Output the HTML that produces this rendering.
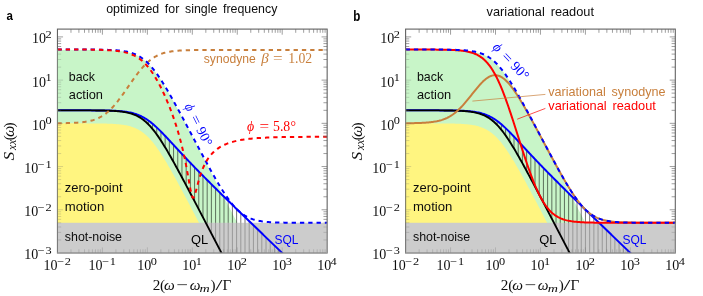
<!DOCTYPE html>
<html><head><meta charset="utf-8"><title>figure</title>
<style>html,body{margin:0;padding:0;background:#fff;}body{width:703px;height:296px;overflow:hidden;font-family:"Liberation Sans",sans-serif;}svg{display:block;will-change:transform;}text{white-space:pre;}</style></head><body>
<svg width="703" height="296" viewBox="0 0 703 296" font-family="'Liberation Sans', sans-serif">
<rect width="703" height="296" fill="#fff"/>
<clipPath id="clipA"><rect x="57.45" y="29.1" width="269.7" height="223.9"/></clipPath>
<g clip-path="url(#clipA)">
<path d="M57.45 49.91 L58.49 49.91 L59.53 49.91 L60.57 49.91 L61.62 49.91 L62.66 49.91 L63.7 49.91 L64.74 49.91 L65.78 49.91 L66.82 49.92 L67.86 49.92 L68.9 49.92 L69.95 49.92 L70.99 49.92 L72.03 49.92 L73.07 49.92 L74.11 49.92 L75.15 49.92 L76.19 49.92 L77.23 49.92 L78.28 49.93 L79.32 49.93 L80.36 49.93 L81.4 49.93 L82.44 49.93 L83.48 49.94 L84.52 49.94 L85.57 49.94 L86.61 49.95 L87.65 49.95 L88.69 49.96 L89.73 49.96 L90.77 49.97 L91.81 49.97 L92.85 49.98 L93.9 49.99 L94.94 50 L95.98 50.01 L97.02 50.02 L98.06 50.03 L99.1 50.04 L100.14 50.06 L101.19 50.08 L102.23 50.09 L103.27 50.11 L104.31 50.14 L105.35 50.16 L106.39 50.19 L107.43 50.22 L108.47 50.26 L109.52 50.3 L110.56 50.34 L111.6 50.39 L112.64 50.44 L113.68 50.5 L114.72 50.56 L115.76 50.63 L116.8 50.71 L117.85 50.8 L118.89 50.9 L119.93 51.01 L120.97 51.13 L122.01 51.26 L123.05 51.41 L124.09 51.57 L125.14 51.75 L126.18 51.94 L127.22 52.16 L128.26 52.39 L129.3 52.65 L130.34 52.94 L131.38 53.25 L132.42 53.59 L133.47 53.97 L134.51 54.37 L135.55 54.81 L136.59 55.29 L137.63 55.81 L138.67 56.37 L139.71 56.98 L140.76 57.63 L141.8 58.33 L142.84 59.08 L143.88 59.88 L144.92 60.73 L145.96 61.63 L147 62.59 L148.04 63.6 L149.09 64.66 L150.13 65.78 L151.17 66.95 L152.21 68.17 L153.25 69.44 L154.29 70.76 L155.33 72.12 L156.37 73.54 L157.42 74.99 L158.46 76.49 L159.5 78.02 L160.54 79.6 L161.58 81.2 L162.62 82.84 L163.66 84.52 L164.71 86.22 L165.75 87.94 L166.79 89.69 L167.83 91.46 L168.87 93.26 L169.91 95.07 L170.95 96.9 L171.99 98.75 L173.04 100.61 L174.08 102.48 L175.12 104.37 L176.16 106.27 L177.2 108.18 L178.24 110.09 L179.28 112.02 L180.32 113.95 L181.37 115.89 L182.41 117.84 L183.45 119.79 L184.49 121.75 L185.53 123.71 L186.57 125.67 L187.61 127.64 L188.66 129.61 L189.7 131.59 L190.74 133.57 L191.78 135.55 L192.82 137.53 L193.86 139.51 L194.9 141.5 L195.94 143.49 L196.99 145.48 L198.03 147.47 L199.07 149.46 L200.11 151.45 L201.15 153.45 L202.19 155.44 L203.23 157.44 L204.28 159.43 L205.32 161.43 L206.36 163.43 L207.4 165.43 L208.44 167.42 L209.48 169.42 L210.52 171.42 L211.56 173.42 L212.61 175.42 L213.65 177.42 L214.69 179.42 L215.73 181.42 L216.77 183.42 L217.81 185.42 L218.85 187.43 L219.89 189.43 L220.94 191.43 L221.98 193.43 L223.02 195.43 L224.06 197.43 L225.1 199.43 L226.14 201.44 L227.18 203.44 L228.23 205.44 L229.27 207.44 L230.31 209.44 L231.35 211.45 L232.39 213.45 L233.43 215.45 L234.47 217.45 L235.51 219.46 L236.56 221.46 L237.6 223.46 L238.64 225.46 L239.68 227.46 L240.72 229.47 L241.76 231.47 L242.8 233.47 L243.84 235.47 L244.89 237.48 L245.93 239.48 L246.97 241.48 L248.01 243.48 L249.05 245.49 L250.09 247.49 L251.13 249.49 L252.18 251.49 L253.22 253.5 L254.26 255.5 L255.3 257.5 L256.34 259.5 L257.38 261.51 L258.42 263.51 L259.46 265.51 L260.51 267.51 L261.55 269.51 L262.59 271.52 L263.63 273.52 L264.67 275.52 L265.71 277.52 L266.75 279.53 L267.8 281.53 L268.84 283.53 L269.88 285.53 L270.92 287.54 L271.96 289.54 L273 291.54 L274.04 293.54 L275.08 295.55 L276.13 297.55 L277.17 299.55 L278.21 301.55 L279.25 303.56 L280.29 305.56 L281.33 307.56 L282.37 309.56 L283.41 311.57 L284.46 313.57 L285.5 315.57 L286.54 317.57 L287.58 319.58 L288.62 321.58 L289.66 323.58 L290.7 325.58 L291.75 327.59 L292.79 329.59 L293.83 331.59 L294.87 333.59 L295.91 335.6 L296.95 337.6 L297.99 339.6 L299.03 341.6 L300.08 343.61 L301.12 345.61 L302.16 347.61 L303.2 349.61 L304.24 351.62 L305.28 353.62 L306.32 355.62 L307.37 357.62 L308.41 359.63 L309.45 361.63 L310.49 363.63 L311.53 365.63 L312.57 367.64 L313.61 369.64 L314.65 371.64 L315.7 373.64 L316.74 375.65 L317.78 377.65 L318.82 379.65 L319.86 381.65 L320.9 383.66 L321.94 385.66 L322.98 387.66 L324.03 389.66 L325.07 391.67 L326.11 393.67 L327.15 395.67 L327.15 253 L57.45 253 Z" fill="#c8f5c8"/>
<path d="M57.45 123.34 L58.49 123.34 L59.53 123.34 L60.57 123.34 L61.62 123.34 L62.66 123.34 L63.7 123.34 L64.74 123.34 L65.78 123.34 L66.82 123.34 L67.86 123.35 L68.9 123.35 L69.95 123.35 L70.99 123.35 L72.03 123.35 L73.07 123.35 L74.11 123.35 L75.15 123.35 L76.19 123.35 L77.23 123.35 L78.28 123.36 L79.32 123.36 L80.36 123.36 L81.4 123.36 L82.44 123.36 L83.48 123.37 L84.52 123.37 L85.57 123.37 L86.61 123.38 L87.65 123.38 L88.69 123.39 L89.73 123.39 L90.77 123.4 L91.81 123.4 L92.85 123.41 L93.9 123.42 L94.94 123.43 L95.98 123.44 L97.02 123.45 L98.06 123.46 L99.1 123.47 L100.14 123.49 L101.19 123.51 L102.23 123.52 L103.27 123.54 L104.31 123.57 L105.35 123.59 L106.39 123.62 L107.43 123.65 L108.47 123.69 L109.52 123.73 L110.56 123.77 L111.6 123.82 L112.64 123.87 L113.68 123.93 L114.72 123.99 L115.76 124.06 L116.8 124.14 L117.85 124.23 L118.89 124.33 L119.93 124.44 L120.97 124.56 L122.01 124.69 L123.05 124.84 L124.09 125 L125.14 125.18 L126.18 125.37 L127.22 125.59 L128.26 125.82 L129.3 126.08 L130.34 126.37 L131.38 126.68 L132.42 127.02 L133.47 127.39 L134.51 127.8 L135.55 128.24 L136.59 128.72 L137.63 129.24 L138.67 129.8 L139.71 130.41 L140.76 131.06 L141.8 131.76 L142.84 132.51 L143.88 133.31 L144.92 134.16 L145.96 135.06 L147 136.02 L148.04 137.03 L149.09 138.09 L150.13 139.21 L151.17 140.38 L152.21 141.6 L153.25 142.87 L154.29 144.19 L155.33 145.55 L156.37 146.97 L157.42 148.42 L158.46 149.92 L159.5 151.45 L160.54 153.03 L161.58 154.63 L162.62 156.27 L163.66 157.95 L164.71 159.64 L165.75 161.37 L166.79 163.12 L167.83 164.89 L168.87 166.69 L169.91 168.5 L170.95 170.33 L171.99 172.18 L173.04 174.04 L174.08 175.91 L175.12 177.8 L176.16 179.7 L177.2 181.61 L178.24 183.52 L179.28 185.45 L180.32 187.38 L181.37 189.32 L182.41 191.27 L183.45 193.22 L184.49 195.17 L185.53 197.14 L186.57 199.1 L187.61 201.07 L188.66 203.04 L189.7 205.02 L190.74 207 L191.78 208.98 L192.82 210.96 L193.86 212.94 L194.9 214.93 L195.94 216.92 L196.99 218.91 L198.03 220.9 L199.07 222.89 L200.11 224.88 L201.15 226.88 L202.19 228.87 L203.23 230.87 L204.28 232.86 L205.32 234.86 L206.36 236.86 L207.4 238.86 L208.44 240.85 L209.48 242.85 L210.52 244.85 L211.56 246.85 L212.61 248.85 L213.65 250.85 L214.69 252.85 L215.73 254.85 L216.77 256.85 L217.81 258.85 L218.85 260.86 L219.89 262.86 L220.94 264.86 L221.98 266.86 L223.02 268.86 L224.06 270.86 L225.1 272.86 L226.14 274.87 L227.18 276.87 L228.23 278.87 L229.27 280.87 L230.31 282.87 L231.35 284.88 L232.39 286.88 L233.43 288.88 L234.47 290.88 L235.51 292.88 L236.56 294.89 L237.6 296.89 L238.64 298.89 L239.68 300.89 L240.72 302.9 L241.76 304.9 L242.8 306.9 L243.84 308.9 L244.89 310.91 L245.93 312.91 L246.97 314.91 L248.01 316.91 L249.05 318.92 L250.09 320.92 L251.13 322.92 L252.18 324.92 L253.22 326.92 L254.26 328.93 L255.3 330.93 L256.34 332.93 L257.38 334.93 L258.42 336.94 L259.46 338.94 L260.51 340.94 L261.55 342.94 L262.59 344.95 L263.63 346.95 L264.67 348.95 L265.71 350.95 L266.75 352.96 L267.8 354.96 L268.84 356.96 L269.88 358.96 L270.92 360.97 L271.96 362.97 L273 364.97 L274.04 366.97 L275.08 368.98 L276.13 370.98 L277.17 372.98 L278.21 374.98 L279.25 376.99 L280.29 378.99 L281.33 380.99 L282.37 382.99 L283.41 385 L284.46 387 L285.5 389 L286.54 391 L287.58 393.01 L288.62 395.01 L289.66 397.01 L290.7 399.01 L291.75 401.02 L292.79 403.02 L293.83 405.02 L294.87 407.02 L295.91 409.03 L296.95 411.03 L297.99 413.03 L299.03 415.03 L300.08 417.04 L301.12 419.04 L302.16 421.04 L303.2 423.04 L304.24 425.05 L305.28 427.05 L306.32 429.05 L307.37 431.05 L308.41 433.06 L309.45 435.06 L310.49 437.06 L311.53 439.06 L312.57 441.07 L313.61 443.07 L314.65 445.07 L315.7 447.07 L316.74 449.08 L317.78 451.08 L318.82 453.08 L319.86 455.08 L320.9 457.09 L321.94 459.09 L322.98 461.09 L324.03 463.09 L325.07 465.1 L326.11 467.1 L327.15 469.1 L327.15 253 L57.45 253 Z" fill="#fff580"/>
<rect x="57.45" y="222.79" width="269.7" height="30.21" fill="#cccccc"/>
<clipPath id="hatchA"><path d="M57.45 110.33 L58.49 110.33 L59.53 110.33 L60.57 110.33 L61.62 110.33 L62.66 110.33 L63.7 110.33 L64.74 110.33 L65.78 110.33 L66.82 110.33 L67.86 110.33 L68.9 110.34 L69.95 110.34 L70.99 110.34 L72.03 110.34 L73.07 110.34 L74.11 110.34 L75.15 110.34 L76.19 110.34 L77.23 110.34 L78.28 110.35 L79.32 110.35 L80.36 110.35 L81.4 110.35 L82.44 110.35 L83.48 110.36 L84.52 110.36 L85.57 110.36 L86.61 110.37 L87.65 110.37 L88.69 110.38 L89.73 110.38 L90.77 110.39 L91.81 110.39 L92.85 110.4 L93.9 110.41 L94.94 110.42 L95.98 110.43 L97.02 110.44 L98.06 110.45 L99.1 110.46 L100.14 110.48 L101.19 110.49 L102.23 110.51 L103.27 110.53 L104.31 110.56 L105.35 110.58 L106.39 110.61 L107.43 110.64 L108.47 110.68 L109.52 110.71 L110.56 110.76 L111.6 110.81 L112.64 110.86 L113.68 110.92 L114.72 110.98 L115.76 111.05 L116.8 111.13 L117.85 111.22 L118.89 111.32 L119.93 111.43 L120.97 111.55 L122.01 111.68 L123.05 111.83 L124.09 111.99 L125.14 112.16 L126.18 112.36 L127.22 112.58 L128.26 112.81 L129.3 113.07 L130.34 113.36 L131.38 113.67 L132.42 114.01 L133.47 114.38 L134.51 114.79 L135.55 115.23 L136.59 115.71 L137.63 116.23 L138.67 116.79 L139.71 117.4 L140.76 118.05 L141.8 118.75 L142.84 119.5 L143.88 120.3 L144.92 121.15 L145.96 122.05 L147 123.01 L148.04 124.02 L149.09 125.08 L150.13 126.2 L151.17 127.37 L152.21 128.59 L153.25 129.86 L154.29 131.18 L155.33 132.54 L156.37 133.96 L157.42 135.41 L158.46 136.91 L159.5 138.44 L160.54 140.02 L161.58 141.62 L162.62 143.26 L163.66 144.93 L164.71 146.63 L165.75 148.36 L166.79 150.11 L167.83 151.88 L168.87 153.68 L169.91 155.49 L170.95 157.32 L171.99 159.17 L173.04 161.03 L174.08 162.9 L175.12 164.79 L176.16 166.69 L177.2 168.6 L178.24 170.51 L179.28 172.44 L180.32 174.37 L181.37 176.31 L182.41 178.26 L183.45 180.21 L184.49 182.16 L185.53 184.13 L186.57 186.09 L187.61 188.06 L188.66 190.03 L189.7 192.01 L190.74 193.98 L191.78 195.97 L192.82 197.95 L193.86 199.93 L194.9 201.92 L195.94 203.91 L196.99 205.9 L198.03 207.89 L199.07 209.88 L200.11 211.87 L201.15 213.87 L202.19 215.86 L203.23 217.86 L204.28 219.85 L205.32 221.85 L206.36 223.85 L207.4 225.85 L208.44 227.84 L209.48 229.84 L210.52 231.84 L211.56 233.84 L212.61 235.84 L213.65 237.84 L214.69 239.84 L215.73 241.84 L216.77 243.84 L217.81 245.84 L218.85 247.84 L219.89 249.85 L220.94 251.85 L221.98 253.85 L223.02 255.85 L224.06 257.85 L225.1 259.85 L226.14 261.86 L227.18 263.86 L228.23 265.86 L229.27 267.86 L230.31 269.86 L231.35 271.87 L232.39 273.87 L233.43 275.87 L234.47 277.87 L235.51 279.87 L236.56 281.88 L237.6 283.88 L238.64 285.88 L239.68 287.88 L240.72 289.89 L241.76 291.89 L242.8 293.89 L243.84 295.89 L244.89 297.9 L245.93 299.9 L246.97 301.9 L248.01 303.9 L249.05 305.9 L250.09 307.91 L251.13 309.91 L252.18 311.91 L253.22 313.91 L254.26 315.92 L255.3 317.92 L256.34 319.92 L257.38 321.92 L258.42 323.93 L259.46 325.93 L260.51 327.93 L261.55 329.93 L262.59 331.94 L263.63 333.94 L264.67 335.94 L265.71 337.94 L266.75 339.95 L267.8 341.95 L268.84 343.95 L269.88 345.95 L270.92 347.96 L271.96 349.96 L273 351.96 L274.04 353.96 L275.08 355.97 L276.13 357.97 L277.17 359.97 L278.21 361.97 L279.25 363.98 L280.29 365.98 L281.33 367.98 L282.37 369.98 L283.41 371.99 L284.46 373.99 L285.5 375.99 L286.54 377.99 L287.58 380 L288.62 382 L289.66 384 L290.7 386 L291.75 388.01 L292.79 390.01 L293.83 392.01 L294.87 394.01 L295.91 396.02 L296.95 398.02 L297.99 400.02 L299.03 402.02 L300.08 404.03 L301.12 406.03 L302.16 408.03 L303.2 410.03 L304.24 412.04 L305.28 414.04 L306.32 416.04 L307.37 418.04 L308.41 420.05 L309.45 422.05 L310.49 424.05 L311.53 426.05 L312.57 428.05 L313.61 430.06 L314.65 432.06 L315.7 434.06 L316.74 436.06 L317.78 438.07 L318.82 440.07 L319.86 442.07 L320.9 444.07 L321.94 446.08 L322.98 448.08 L324.03 450.08 L325.07 452.08 L326.11 454.09 L327.15 456.09 L327.15 296.22 L326.11 295.22 L325.07 294.22 L324.03 293.21 L322.98 292.21 L321.94 291.21 L320.9 290.21 L319.86 289.21 L318.82 288.21 L317.78 287.21 L316.74 286.2 L315.7 285.2 L314.65 284.2 L313.61 283.2 L312.57 282.2 L311.53 281.2 L310.49 280.2 L309.45 279.19 L308.41 278.19 L307.37 277.19 L306.32 276.19 L305.28 275.19 L304.24 274.19 L303.2 273.19 L302.16 272.18 L301.12 271.18 L300.08 270.18 L299.03 269.18 L297.99 268.18 L296.95 267.18 L295.91 266.17 L294.87 265.17 L293.83 264.17 L292.79 263.17 L291.75 262.17 L290.7 261.16 L289.66 260.16 L288.62 259.16 L287.58 258.16 L286.54 257.16 L285.5 256.15 L284.46 255.15 L283.41 254.15 L282.37 253.15 L281.33 252.15 L280.29 251.14 L279.25 250.14 L278.21 249.14 L277.17 248.14 L276.13 247.13 L275.08 246.13 L274.04 245.13 L273 244.13 L271.96 243.12 L270.92 242.12 L269.88 241.12 L268.84 240.11 L267.8 239.11 L266.75 238.11 L265.71 237.1 L264.67 236.1 L263.63 235.1 L262.59 234.09 L261.55 233.09 L260.51 232.08 L259.46 231.08 L258.42 230.08 L257.38 229.07 L256.34 228.07 L255.3 227.06 L254.26 226.06 L253.22 225.05 L252.18 224.04 L251.13 223.04 L250.09 222.03 L249.05 221.03 L248.01 220.02 L246.97 219.01 L245.93 218 L244.89 217 L243.84 215.99 L242.8 214.98 L241.76 213.97 L240.72 212.96 L239.68 211.95 L238.64 210.94 L237.6 209.93 L236.56 208.92 L235.51 207.91 L234.47 206.9 L233.43 205.88 L232.39 204.87 L231.35 203.86 L230.31 202.84 L229.27 201.83 L228.23 200.81 L227.18 199.79 L226.14 198.77 L225.1 197.76 L224.06 196.74 L223.02 195.72 L221.98 194.69 L220.94 193.67 L219.89 192.65 L218.85 191.62 L217.81 190.6 L216.77 189.57 L215.73 188.54 L214.69 187.51 L213.65 186.48 L212.61 185.44 L211.56 184.41 L210.52 183.37 L209.48 182.33 L208.44 181.29 L207.4 180.25 L206.36 179.21 L205.32 178.16 L204.28 177.11 L203.23 176.06 L202.19 175.01 L201.15 173.95 L200.11 172.9 L199.07 171.84 L198.03 170.77 L196.99 169.71 L195.94 168.64 L194.9 167.57 L193.86 166.49 L192.82 165.41 L191.78 164.33 L190.74 163.25 L189.7 162.16 L188.66 161.07 L187.61 159.98 L186.57 158.88 L185.53 157.78 L184.49 156.67 L183.45 155.57 L182.41 154.46 L181.37 153.34 L180.32 152.23 L179.28 151.11 L178.24 149.99 L177.2 148.87 L176.16 147.74 L175.12 146.62 L174.08 145.49 L173.04 144.36 L171.99 143.24 L170.95 142.11 L169.91 140.99 L168.87 139.87 L167.83 138.76 L166.79 137.65 L165.75 136.54 L164.71 135.44 L163.66 134.36 L162.62 133.28 L161.58 132.21 L160.54 131.16 L159.5 130.13 L158.46 129.11 L157.42 128.11 L156.37 127.13 L155.33 126.18 L154.29 125.25 L153.25 124.35 L152.21 123.47 L151.17 122.63 L150.13 121.82 L149.09 121.03 L148.04 120.29 L147 119.57 L145.96 118.89 L144.92 118.25 L143.88 117.64 L142.84 117.07 L141.8 116.53 L140.76 116.02 L139.71 115.55 L138.67 115.11 L137.63 114.7 L136.59 114.32 L135.55 113.97 L134.51 113.64 L133.47 113.34 L132.42 113.07 L131.38 112.82 L130.34 112.59 L129.3 112.37 L128.26 112.18 L127.22 112.01 L126.18 111.85 L125.14 111.7 L124.09 111.57 L123.05 111.45 L122.01 111.34 L120.97 111.24 L119.93 111.15 L118.89 111.07 L117.85 111 L116.8 110.93 L115.76 110.87 L114.72 110.82 L113.68 110.77 L112.64 110.73 L111.6 110.69 L110.56 110.65 L109.52 110.62 L108.47 110.59 L107.43 110.56 L106.39 110.54 L105.35 110.52 L104.31 110.5 L103.27 110.48 L102.23 110.47 L101.19 110.45 L100.14 110.44 L99.1 110.43 L98.06 110.42 L97.02 110.41 L95.98 110.4 L94.94 110.39 L93.9 110.39 L92.85 110.38 L91.81 110.38 L90.77 110.37 L89.73 110.37 L88.69 110.36 L87.65 110.36 L86.61 110.36 L85.57 110.35 L84.52 110.35 L83.48 110.35 L82.44 110.35 L81.4 110.35 L80.36 110.34 L79.32 110.34 L78.28 110.34 L77.23 110.34 L76.19 110.34 L75.15 110.34 L74.11 110.34 L73.07 110.34 L72.03 110.34 L70.99 110.34 L69.95 110.33 L68.9 110.33 L67.86 110.33 L66.82 110.33 L65.78 110.33 L64.74 110.33 L63.7 110.33 L62.66 110.33 L61.62 110.33 L60.57 110.33 L59.53 110.33 L58.49 110.33 L57.45 110.33 Z"/></clipPath>
<g clip-path="url(#hatchA)"><path d="M60.07 29.1 V222.79 M64.28 29.1 V222.79 M68.48 29.1 V222.79 M72.68 29.1 V222.79 M76.89 29.1 V222.79 M81.09 29.1 V222.79 M85.29 29.1 V222.79 M89.49 29.1 V222.79 M93.7 29.1 V222.79 M97.9 29.1 V222.79 M102.1 29.1 V222.79 M106.31 29.1 V222.79 M110.51 29.1 V222.79 M114.71 29.1 V222.79 M118.92 29.1 V222.79 M123.12 29.1 V222.79 M127.32 29.1 V222.79 M131.52 29.1 V222.79 M135.73 29.1 V222.79 M139.93 29.1 V222.79 M144.13 29.1 V222.79 M148.34 29.1 V222.79 M152.54 29.1 V222.79 M156.74 29.1 V222.79 M160.95 29.1 V222.79 M165.15 29.1 V222.79 M169.35 29.1 V222.79 M173.56 29.1 V222.79 M177.76 29.1 V222.79 M181.96 29.1 V222.79 M186.16 29.1 V222.79 M190.37 29.1 V222.79 M194.57 29.1 V222.79 M198.77 29.1 V222.79 M202.98 29.1 V222.79 M207.18 29.1 V222.79 M211.38 29.1 V222.79 M215.58 29.1 V222.79 M219.79 29.1 V222.79 M223.99 29.1 V222.79 M228.19 29.1 V222.79 M232.4 29.1 V222.79 M236.6 29.1 V222.79 M240.8 29.1 V222.79 M245.01 29.1 V222.79 M249.21 29.1 V222.79 M253.41 29.1 V222.79 M257.62 29.1 V222.79 M261.82 29.1 V222.79 M266.02 29.1 V222.79 M270.22 29.1 V222.79 M274.43 29.1 V222.79 M278.63 29.1 V222.79 M282.83 29.1 V222.79 M287.04 29.1 V222.79 M291.24 29.1 V222.79 M295.44 29.1 V222.79 M299.64 29.1 V222.79 M303.85 29.1 V222.79 M308.05 29.1 V222.79 M312.25 29.1 V222.79 M316.46 29.1 V222.79 M320.66 29.1 V222.79 M324.86 29.1 V222.79" stroke="#000" stroke-opacity="0.78" stroke-width="0.7" fill="none"/><path d="M60.07 222.79 V253 M64.28 222.79 V253 M68.48 222.79 V253 M72.68 222.79 V253 M76.89 222.79 V253 M81.09 222.79 V253 M85.29 222.79 V253 M89.49 222.79 V253 M93.7 222.79 V253 M97.9 222.79 V253 M102.1 222.79 V253 M106.31 222.79 V253 M110.51 222.79 V253 M114.71 222.79 V253 M118.92 222.79 V253 M123.12 222.79 V253 M127.32 222.79 V253 M131.52 222.79 V253 M135.73 222.79 V253 M139.93 222.79 V253 M144.13 222.79 V253 M148.34 222.79 V253 M152.54 222.79 V253 M156.74 222.79 V253 M160.95 222.79 V253 M165.15 222.79 V253 M169.35 222.79 V253 M173.56 222.79 V253 M177.76 222.79 V253 M181.96 222.79 V253 M186.16 222.79 V253 M190.37 222.79 V253 M194.57 222.79 V253 M198.77 222.79 V253 M202.98 222.79 V253 M207.18 222.79 V253 M211.38 222.79 V253 M215.58 222.79 V253 M219.79 222.79 V253 M223.99 222.79 V253 M228.19 222.79 V253 M232.4 222.79 V253 M236.6 222.79 V253 M240.8 222.79 V253 M245.01 222.79 V253 M249.21 222.79 V253 M253.41 222.79 V253 M257.62 222.79 V253 M261.82 222.79 V253 M266.02 222.79 V253 M270.22 222.79 V253 M274.43 222.79 V253 M278.63 222.79 V253 M282.83 222.79 V253 M287.04 222.79 V253 M291.24 222.79 V253 M295.44 222.79 V253 M299.64 222.79 V253 M303.85 222.79 V253 M308.05 222.79 V253 M312.25 222.79 V253 M316.46 222.79 V253 M320.66 222.79 V253 M324.86 222.79 V253" stroke="#000" stroke-opacity="0.36" stroke-width="0.7" fill="none"/></g>
<path d="M57.45 110.33 L58.49 110.33 L59.53 110.33 L60.57 110.33 L61.62 110.33 L62.66 110.33 L63.7 110.33 L64.74 110.33 L65.78 110.33 L66.82 110.33 L67.86 110.33 L68.9 110.33 L69.95 110.33 L70.99 110.34 L72.03 110.34 L73.07 110.34 L74.11 110.34 L75.15 110.34 L76.19 110.34 L77.23 110.34 L78.28 110.34 L79.32 110.34 L80.36 110.34 L81.4 110.35 L82.44 110.35 L83.48 110.35 L84.52 110.35 L85.57 110.35 L86.61 110.36 L87.65 110.36 L88.69 110.36 L89.73 110.37 L90.77 110.37 L91.81 110.38 L92.85 110.38 L93.9 110.39 L94.94 110.39 L95.98 110.4 L97.02 110.41 L98.06 110.42 L99.1 110.43 L100.14 110.44 L101.19 110.45 L102.23 110.47 L103.27 110.48 L104.31 110.5 L105.35 110.52 L106.39 110.54 L107.43 110.56 L108.47 110.59 L109.52 110.62 L110.56 110.65 L111.6 110.69 L112.64 110.73 L113.68 110.77 L114.72 110.82 L115.76 110.87 L116.8 110.93 L117.85 111 L118.89 111.07 L119.93 111.15 L120.97 111.24 L122.01 111.34 L123.05 111.45 L124.09 111.57 L125.14 111.7 L126.18 111.85 L127.22 112.01 L128.26 112.18 L129.3 112.37 L130.34 112.59 L131.38 112.82 L132.42 113.07 L133.47 113.34 L134.51 113.64 L135.55 113.97 L136.59 114.32 L137.63 114.7 L138.67 115.11 L139.71 115.55 L140.76 116.02 L141.8 116.53 L142.84 117.07 L143.88 117.64 L144.92 118.25 L145.96 118.89 L147 119.57 L148.04 120.29 L149.09 121.03 L150.13 121.82 L151.17 122.63 L152.21 123.47 L153.25 124.35 L154.29 125.25 L155.33 126.18 L156.37 127.13 L157.42 128.11 L158.46 129.11 L159.5 130.13 L160.54 131.16 L161.58 132.21 L162.62 133.28 L163.66 134.36 L164.71 135.44 L165.75 136.54 L166.79 137.65 L167.83 138.76 L168.87 139.87 L169.91 140.99 L170.95 142.11 L171.99 143.24 L173.04 144.36 L174.08 145.49 L175.12 146.62 L176.16 147.74 L177.2 148.87 L178.24 149.99 L179.28 151.11 L180.32 152.23 L181.37 153.34 L182.41 154.46 L183.45 155.57 L184.49 156.67 L185.53 157.78 L186.57 158.88 L187.61 159.98 L188.66 161.07 L189.7 162.16 L190.74 163.25 L191.78 164.33 L192.82 165.41 L193.86 166.49 L194.9 167.57 L195.94 168.64 L196.99 169.71 L198.03 170.77 L199.07 171.84 L200.11 172.9 L201.15 173.95 L202.19 175.01 L203.23 176.06 L204.28 177.11 L205.32 178.16 L206.36 179.21 L207.4 180.25 L208.44 181.29 L209.48 182.33 L210.52 183.37 L211.56 184.41 L212.61 185.44 L213.65 186.48 L214.69 187.51 L215.73 188.54 L216.77 189.57 L217.81 190.6 L218.85 191.62 L219.89 192.65 L220.94 193.67 L221.98 194.69 L223.02 195.72 L224.06 196.74 L225.1 197.76 L226.14 198.77 L227.18 199.79 L228.23 200.81 L229.27 201.83 L230.31 202.84 L231.35 203.86 L232.39 204.87 L233.43 205.88 L234.47 206.9 L235.51 207.91 L236.56 208.92 L237.6 209.93 L238.64 210.94 L239.68 211.95 L240.72 212.96 L241.76 213.97 L242.8 214.98 L243.84 215.99 L244.89 217 L245.93 218 L246.97 219.01 L248.01 220.02 L249.05 221.03 L250.09 222.03 L251.13 223.04 L252.18 224.04 L253.22 225.05 L254.26 226.06 L255.3 227.06 L256.34 228.07 L257.38 229.07 L258.42 230.08 L259.46 231.08 L260.51 232.08 L261.55 233.09 L262.59 234.09 L263.63 235.1 L264.67 236.1 L265.71 237.1 L266.75 238.11 L267.8 239.11 L268.84 240.11 L269.88 241.12 L270.92 242.12 L271.96 243.12 L273 244.13 L274.04 245.13 L275.08 246.13 L276.13 247.13 L277.17 248.14 L278.21 249.14 L279.25 250.14 L280.29 251.14 L281.33 252.15 L282.37 253.15 L283.41 254.15 L284.46 255.15 L285.5 256.15 L286.54 257.16 L287.58 258.16 L288.62 259.16 L289.66 260.16 L290.7 261.16 L291.75 262.17 L292.79 263.17 L293.83 264.17 L294.87 265.17 L295.91 266.17 L296.95 267.18 L297.99 268.18 L299.03 269.18 L300.08 270.18 L301.12 271.18 L302.16 272.18 L303.2 273.19 L304.24 274.19 L305.28 275.19 L306.32 276.19 L307.37 277.19 L308.41 278.19 L309.45 279.19 L310.49 280.2 L311.53 281.2 L312.57 282.2 L313.61 283.2 L314.65 284.2 L315.7 285.2 L316.74 286.2 L317.78 287.21 L318.82 288.21 L319.86 289.21 L320.9 290.21 L321.94 291.21 L322.98 292.21 L324.03 293.21 L325.07 294.22 L326.11 295.22 L327.15 296.22" fill="none" stroke="#0000ff" stroke-width="2" stroke-linejoin="round"/>
<path d="M57.45 110.33 L58.49 110.33 L59.53 110.33 L60.57 110.33 L61.62 110.33 L62.66 110.33 L63.7 110.33 L64.74 110.33 L65.78 110.33 L66.82 110.33 L67.86 110.33 L68.9 110.34 L69.95 110.34 L70.99 110.34 L72.03 110.34 L73.07 110.34 L74.11 110.34 L75.15 110.34 L76.19 110.34 L77.23 110.34 L78.28 110.35 L79.32 110.35 L80.36 110.35 L81.4 110.35 L82.44 110.35 L83.48 110.36 L84.52 110.36 L85.57 110.36 L86.61 110.37 L87.65 110.37 L88.69 110.38 L89.73 110.38 L90.77 110.39 L91.81 110.39 L92.85 110.4 L93.9 110.41 L94.94 110.42 L95.98 110.43 L97.02 110.44 L98.06 110.45 L99.1 110.46 L100.14 110.48 L101.19 110.49 L102.23 110.51 L103.27 110.53 L104.31 110.56 L105.35 110.58 L106.39 110.61 L107.43 110.64 L108.47 110.68 L109.52 110.71 L110.56 110.76 L111.6 110.81 L112.64 110.86 L113.68 110.92 L114.72 110.98 L115.76 111.05 L116.8 111.13 L117.85 111.22 L118.89 111.32 L119.93 111.43 L120.97 111.55 L122.01 111.68 L123.05 111.83 L124.09 111.99 L125.14 112.16 L126.18 112.36 L127.22 112.58 L128.26 112.81 L129.3 113.07 L130.34 113.36 L131.38 113.67 L132.42 114.01 L133.47 114.38 L134.51 114.79 L135.55 115.23 L136.59 115.71 L137.63 116.23 L138.67 116.79 L139.71 117.4 L140.76 118.05 L141.8 118.75 L142.84 119.5 L143.88 120.3 L144.92 121.15 L145.96 122.05 L147 123.01 L148.04 124.02 L149.09 125.08 L150.13 126.2 L151.17 127.37 L152.21 128.59 L153.25 129.86 L154.29 131.18 L155.33 132.54 L156.37 133.96 L157.42 135.41 L158.46 136.91 L159.5 138.44 L160.54 140.02 L161.58 141.62 L162.62 143.26 L163.66 144.93 L164.71 146.63 L165.75 148.36 L166.79 150.11 L167.83 151.88 L168.87 153.68 L169.91 155.49 L170.95 157.32 L171.99 159.17 L173.04 161.03 L174.08 162.9 L175.12 164.79 L176.16 166.69 L177.2 168.6 L178.24 170.51 L179.28 172.44 L180.32 174.37 L181.37 176.31 L182.41 178.26 L183.45 180.21 L184.49 182.16 L185.53 184.13 L186.57 186.09 L187.61 188.06 L188.66 190.03 L189.7 192.01 L190.74 193.98 L191.78 195.97 L192.82 197.95 L193.86 199.93 L194.9 201.92 L195.94 203.91 L196.99 205.9 L198.03 207.89 L199.07 209.88 L200.11 211.87 L201.15 213.87 L202.19 215.86 L203.23 217.86 L204.28 219.85 L205.32 221.85 L206.36 223.85 L207.4 225.85 L208.44 227.84 L209.48 229.84 L210.52 231.84 L211.56 233.84 L212.61 235.84 L213.65 237.84 L214.69 239.84 L215.73 241.84 L216.77 243.84 L217.81 245.84 L218.85 247.84 L219.89 249.85 L220.94 251.85 L221.98 253.85 L223.02 255.85 L224.06 257.85 L225.1 259.85 L226.14 261.86 L227.18 263.86 L228.23 265.86 L229.27 267.86 L230.31 269.86 L231.35 271.87 L232.39 273.87 L233.43 275.87 L234.47 277.87 L235.51 279.87 L236.56 281.88 L237.6 283.88 L238.64 285.88 L239.68 287.88 L240.72 289.89 L241.76 291.89 L242.8 293.89 L243.84 295.89 L244.89 297.9 L245.93 299.9 L246.97 301.9 L248.01 303.9 L249.05 305.9 L250.09 307.91 L251.13 309.91 L252.18 311.91 L253.22 313.91 L254.26 315.92 L255.3 317.92 L256.34 319.92 L257.38 321.92 L258.42 323.93 L259.46 325.93 L260.51 327.93 L261.55 329.93 L262.59 331.94 L263.63 333.94 L264.67 335.94 L265.71 337.94 L266.75 339.95 L267.8 341.95 L268.84 343.95 L269.88 345.95 L270.92 347.96 L271.96 349.96 L273 351.96 L274.04 353.96 L275.08 355.97 L276.13 357.97 L277.17 359.97 L278.21 361.97 L279.25 363.98 L280.29 365.98 L281.33 367.98 L282.37 369.98 L283.41 371.99 L284.46 373.99 L285.5 375.99 L286.54 377.99 L287.58 380 L288.62 382 L289.66 384 L290.7 386 L291.75 388.01 L292.79 390.01 L293.83 392.01 L294.87 394.01 L295.91 396.02 L296.95 398.02 L297.99 400.02 L299.03 402.02 L300.08 404.03 L301.12 406.03 L302.16 408.03 L303.2 410.03 L304.24 412.04 L305.28 414.04 L306.32 416.04 L307.37 418.04 L308.41 420.05 L309.45 422.05 L310.49 424.05 L311.53 426.05 L312.57 428.05 L313.61 430.06 L314.65 432.06 L315.7 434.06 L316.74 436.06 L317.78 438.07 L318.82 440.07 L319.86 442.07 L320.9 444.07 L321.94 446.08 L322.98 448.08 L324.03 450.08 L325.07 452.08 L326.11 454.09 L327.15 456.09" fill="none" stroke="#000000" stroke-width="1.9" stroke-linejoin="round"/>
<path d="M57.45 123.25 L58.49 123.24 L59.53 123.23 L60.57 123.21 L61.62 123.2 L62.66 123.18 L63.7 123.17 L64.74 123.15 L65.78 123.13 L66.82 123.1 L67.86 123.07 L68.9 123.05 L69.95 123.01 L70.99 122.98 L72.03 122.94 L73.07 122.89 L74.11 122.84 L75.15 122.78 L76.19 122.72 L77.23 122.65 L78.28 122.58 L79.32 122.5 L80.36 122.4 L81.4 122.3 L82.44 122.19 L83.48 122.06 L84.52 121.92 L85.57 121.77 L86.61 121.6 L87.65 121.42 L88.69 121.21 L89.73 120.99 L90.77 120.74 L91.81 120.47 L92.85 120.18 L93.9 119.85 L94.94 119.5 L95.98 119.11 L97.02 118.7 L98.06 118.24 L99.1 117.75 L100.14 117.22 L101.19 116.64 L102.23 116.02 L103.27 115.36 L104.31 114.65 L105.35 113.89 L106.39 113.09 L107.43 112.23 L108.47 111.33 L109.52 110.38 L110.56 109.37 L111.6 108.32 L112.64 107.22 L113.68 106.08 L114.72 104.89 L115.76 103.66 L116.8 102.39 L117.85 101.08 L118.89 99.73 L119.93 98.36 L120.97 96.96 L122.01 95.53 L123.05 94.08 L124.09 92.61 L125.14 91.13 L126.18 89.63 L127.22 88.13 L128.26 86.62 L129.3 85.12 L130.34 83.62 L131.38 82.12 L132.42 80.64 L133.47 79.17 L134.51 77.72 L135.55 76.29 L136.59 74.89 L137.63 73.51 L138.67 72.17 L139.71 70.86 L140.76 69.59 L141.8 68.36 L142.84 67.17 L143.88 66.03 L144.92 64.93 L145.96 63.88 L147 62.87 L148.04 61.92 L149.09 61.01 L150.13 60.16 L151.17 59.35 L152.21 58.6 L153.25 57.89 L154.29 57.23 L155.33 56.61 L156.37 56.03 L157.42 55.5 L158.46 55.01 L159.5 54.55 L160.54 54.14 L161.58 53.75 L162.62 53.4 L163.66 53.07 L164.71 52.78 L165.75 52.51 L166.79 52.26 L167.83 52.04 L168.87 51.83 L169.91 51.65 L170.95 51.48 L171.99 51.33 L173.04 51.19 L174.08 51.06 L175.12 50.95 L176.16 50.85 L177.2 50.75 L178.24 50.67 L179.28 50.6 L180.32 50.53 L181.37 50.47 L182.41 50.41 L183.45 50.36 L184.49 50.32 L185.53 50.27 L186.57 50.24 L187.61 50.21 L188.66 50.18 L189.7 50.15 L190.74 50.13 L191.78 50.1 L192.82 50.08 L193.86 50.07 L194.9 50.05 L195.94 50.04 L196.99 50.02 L198.03 50.01 L199.07 50 L200.11 49.99 L201.15 49.98 L202.19 49.98 L203.23 49.97 L204.28 49.96 L205.32 49.96 L206.36 49.95 L207.4 49.95 L208.44 49.95 L209.48 49.94 L210.52 49.94 L211.56 49.94 L212.61 49.93 L213.65 49.93 L214.69 49.93 L215.73 49.93 L216.77 49.93 L217.81 49.92 L218.85 49.92 L219.89 49.92 L220.94 49.92 L221.98 49.92 L223.02 49.92 L224.06 49.92 L225.1 49.92 L226.14 49.92 L227.18 49.92 L228.23 49.92 L229.27 49.91 L230.31 49.91 L231.35 49.91 L232.39 49.91 L233.43 49.91 L234.47 49.91 L235.51 49.91 L236.56 49.91 L237.6 49.91 L238.64 49.91 L239.68 49.91 L240.72 49.91 L241.76 49.91 L242.8 49.91 L243.84 49.91 L244.89 49.91 L245.93 49.91 L246.97 49.91 L248.01 49.91 L249.05 49.91 L250.09 49.91 L251.13 49.91 L252.18 49.91 L253.22 49.91 L254.26 49.91 L255.3 49.91 L256.34 49.91 L257.38 49.91 L258.42 49.91 L259.46 49.91 L260.51 49.91 L261.55 49.91 L262.59 49.91 L263.63 49.91 L264.67 49.91 L265.71 49.91 L266.75 49.91 L267.8 49.91 L268.84 49.91 L269.88 49.91 L270.92 49.91 L271.96 49.91 L273 49.91 L274.04 49.91 L275.08 49.91 L276.13 49.91 L277.17 49.91 L278.21 49.91 L279.25 49.91 L280.29 49.91 L281.33 49.91 L282.37 49.91 L283.41 49.91 L284.46 49.91 L285.5 49.91 L286.54 49.91 L287.58 49.91 L288.62 49.91 L289.66 49.91 L290.7 49.91 L291.75 49.91 L292.79 49.91 L293.83 49.91 L294.87 49.91 L295.91 49.91 L296.95 49.91 L297.99 49.91 L299.03 49.91 L300.08 49.91 L301.12 49.91 L302.16 49.91 L303.2 49.91 L304.24 49.91 L305.28 49.91 L306.32 49.91 L307.37 49.91 L308.41 49.91 L309.45 49.91 L310.49 49.91 L311.53 49.91 L312.57 49.91 L313.61 49.91 L314.65 49.91 L315.7 49.91 L316.74 49.91 L317.78 49.91 L318.82 49.91 L319.86 49.91 L320.9 49.91 L321.94 49.91 L322.98 49.91 L324.03 49.91 L325.07 49.91 L326.11 49.91 L327.15 49.91" fill="none" stroke="#c87f3c" stroke-width="2" stroke-dasharray="4.3 3.996" stroke-linejoin="round"/>
<path d="M57.45 49.54 L58.49 49.54 L59.53 49.54 L60.57 49.54 L61.62 49.54 L62.66 49.54 L63.7 49.54 L64.74 49.54 L65.78 49.54 L66.82 49.54 L67.86 49.54 L68.9 49.54 L69.95 49.54 L70.99 49.54 L72.03 49.55 L73.07 49.55 L74.11 49.55 L75.15 49.55 L76.19 49.55 L77.23 49.55 L78.28 49.55 L79.32 49.55 L80.36 49.56 L81.4 49.56 L82.44 49.56 L83.48 49.56 L84.52 49.57 L85.57 49.57 L86.61 49.57 L87.65 49.58 L88.69 49.58 L89.73 49.59 L90.77 49.59 L91.81 49.6 L92.85 49.61 L93.9 49.62 L94.94 49.62 L95.98 49.63 L97.02 49.64 L98.06 49.66 L99.1 49.67 L100.14 49.69 L101.19 49.7 L102.23 49.72 L103.27 49.74 L104.31 49.76 L105.35 49.79 L106.39 49.82 L107.43 49.85 L108.47 49.88 L109.52 49.92 L110.56 49.96 L111.6 50.01 L112.64 50.07 L113.68 50.12 L114.72 50.19 L115.76 50.26 L116.8 50.34 L117.85 50.43 L118.89 50.53 L119.93 50.63 L120.97 50.75 L122.01 50.89 L123.05 51.03 L124.09 51.19 L125.14 51.37 L126.18 51.57 L127.22 51.78 L128.26 52.02 L129.3 52.28 L130.34 52.57 L131.38 52.88 L132.42 53.22 L133.47 53.59 L134.51 54 L135.55 54.44 L136.59 54.92 L137.63 55.44 L138.67 56 L139.71 56.61 L140.76 57.26 L141.8 57.96 L142.84 58.7 L143.88 59.5 L144.92 60.35 L145.96 61.26 L147 62.21 L148.04 63.22 L149.09 64.29 L150.13 65.4 L151.17 66.57 L152.21 67.79 L153.25 69.06 L154.29 70.38 L155.33 71.75 L156.37 73.16 L157.42 74.61 L158.46 76.11 L159.5 77.64 L160.54 79.22 L161.58 80.82 L162.62 82.46 L163.66 84.13 L164.71 85.83 L165.75 87.56 L166.79 89.3 L167.83 91.08 L168.87 92.87 L169.91 94.68 L170.95 96.51 L171.99 98.35 L173.04 100.21 L174.08 102.08 L175.12 103.97 L176.16 105.86 L177.2 107.76 L178.24 109.68 L179.28 111.6 L180.32 113.52 L181.37 115.46 L182.41 117.4 L183.45 119.34 L184.49 121.29 L185.53 123.24 L186.57 125.2 L187.61 127.15 L188.66 129.11 L189.7 131.07 L190.74 133.04 L191.78 135 L192.82 136.96 L193.86 138.93 L194.9 140.89 L195.94 142.85 L196.99 144.81 L198.03 146.77 L199.07 148.72 L200.11 150.67 L201.15 152.62 L202.19 154.57 L203.23 156.51 L204.28 158.44 L205.32 160.37 L206.36 162.29 L207.4 164.21 L208.44 166.11 L209.48 168.01 L210.52 169.9 L211.56 171.77 L212.61 173.63 L213.65 175.48 L214.69 177.31 L215.73 179.12 L216.77 180.92 L217.81 182.69 L218.85 184.45 L219.89 186.18 L220.94 187.88 L221.98 189.56 L223.02 191.2 L224.06 192.81 L225.1 194.39 L226.14 195.94 L227.18 197.44 L228.23 198.9 L229.27 200.32 L230.31 201.69 L231.35 203.02 L232.39 204.3 L233.43 205.53 L234.47 206.71 L235.51 207.84 L236.56 208.91 L237.6 209.93 L238.64 210.89 L239.68 211.81 L240.72 212.67 L241.76 213.48 L242.8 214.24 L243.84 214.94 L244.89 215.6 L245.93 216.22 L246.97 216.79 L248.01 217.32 L249.05 217.8 L250.09 218.25 L251.13 218.66 L252.18 219.04 L253.22 219.39 L254.26 219.71 L255.3 220 L256.34 220.26 L257.38 220.5 L258.42 220.72 L259.46 220.92 L260.51 221.1 L261.55 221.27 L262.59 221.41 L263.63 221.55 L264.67 221.67 L265.71 221.78 L266.75 221.88 L267.8 221.97 L268.84 222.05 L269.88 222.13 L270.92 222.19 L271.96 222.25 L273 222.31 L274.04 222.35 L275.08 222.4 L276.13 222.44 L277.17 222.47 L278.21 222.5 L279.25 222.53 L280.29 222.56 L281.33 222.58 L282.37 222.6 L283.41 222.62 L284.46 222.64 L285.5 222.65 L286.54 222.67 L287.58 222.68 L288.62 222.69 L289.66 222.7 L290.7 222.71 L291.75 222.72 L292.79 222.73 L293.83 222.73 L294.87 222.74 L295.91 222.74 L296.95 222.75 L297.99 222.75 L299.03 222.76 L300.08 222.76 L301.12 222.76 L302.16 222.77 L303.2 222.77 L304.24 222.77 L305.28 222.77 L306.32 222.77 L307.37 222.78 L308.41 222.78 L309.45 222.78 L310.49 222.78 L311.53 222.78 L312.57 222.78 L313.61 222.78 L314.65 222.78 L315.7 222.78 L316.74 222.78 L317.78 222.79 L318.82 222.79 L319.86 222.79 L320.9 222.79 L321.94 222.79 L322.98 222.79 L324.03 222.79 L325.07 222.79 L326.11 222.79 L327.15 222.79" fill="none" stroke="#0000ff" stroke-width="2" stroke-dasharray="4.3 3.996" stroke-linejoin="round"/>
<path d="M57.45 49.4 L58.49 49.4 L59.53 49.4 L60.57 49.4 L61.62 49.41 L62.66 49.41 L63.7 49.41 L64.74 49.42 L65.78 49.42 L66.82 49.42 L67.86 49.43 L68.9 49.43 L69.95 49.43 L70.99 49.44 L72.03 49.44 L73.07 49.45 L74.11 49.45 L75.15 49.46 L76.19 49.47 L77.23 49.47 L78.28 49.48 L79.32 49.49 L80.36 49.5 L81.4 49.5 L82.44 49.51 L83.48 49.52 L84.52 49.53 L85.57 49.54 L86.61 49.56 L87.65 49.57 L88.69 49.58 L89.73 49.6 L90.77 49.61 L91.81 49.63 L92.85 49.65 L93.9 49.67 L94.94 49.69 L95.98 49.72 L97.02 49.74 L98.06 49.77 L99.1 49.8 L100.14 49.83 L101.19 49.86 L102.23 49.9 L103.27 49.94 L104.31 49.98 L105.35 50.03 L106.39 50.08 L107.43 50.14 L108.47 50.2 L109.52 50.26 L110.56 50.34 L111.6 50.41 L112.64 50.5 L113.68 50.59 L114.72 50.69 L115.76 50.8 L116.8 50.92 L117.85 51.05 L118.89 51.19 L119.93 51.35 L120.97 51.52 L122.01 51.7 L123.05 51.9 L124.09 52.12 L125.14 52.36 L126.18 52.62 L127.22 52.91 L128.26 53.22 L129.3 53.55 L130.34 53.92 L131.38 54.32 L132.42 54.75 L133.47 55.22 L134.51 55.72 L135.55 56.27 L136.59 56.87 L137.63 57.51 L138.67 58.19 L139.71 58.93 L140.76 59.73 L141.8 60.58 L142.84 61.49 L143.88 62.45 L144.92 63.48 L145.96 64.58 L147 65.73 L148.04 66.96 L149.09 68.25 L150.13 69.6 L151.17 71.02 L152.21 72.51 L153.25 74.07 L154.29 75.69 L155.33 77.39 L156.37 79.14 L157.42 80.96 L158.46 82.85 L159.5 84.8 L160.54 86.82 L161.58 88.9 L162.62 91.04 L163.66 93.26 L164.71 95.53 L165.75 97.88 L166.79 100.29 L167.83 102.77 L168.87 105.33 L169.91 107.96 L170.95 110.68 L171.99 113.48 L173.04 116.37 L174.08 119.36 L175.12 122.45 L176.16 125.66 L177.2 129 L178.24 132.48 L179.28 136.11 L180.32 139.92 L181.37 143.92 L182.41 148.14 L183.45 152.61 L184.49 157.36 L185.53 162.41 L186.57 167.79 L187.61 173.5 L188.66 179.47 L189.7 185.49 L190.74 191.1 L191.78 195.51 L192.82 197.73 L193.86 197.33 L194.9 194.8 L195.94 191.1 L196.99 187.04 L198.03 183.04 L199.07 179.31 L200.11 175.91 L201.15 172.82 L202.19 170.04 L203.23 167.53 L204.28 165.26 L205.32 163.2 L206.36 161.33 L207.4 159.63 L208.44 158.07 L209.48 156.65 L210.52 155.34 L211.56 154.13 L212.61 153.02 L213.65 151.99 L214.69 151.04 L215.73 150.16 L216.77 149.34 L217.81 148.58 L218.85 147.87 L219.89 147.21 L220.94 146.59 L221.98 146.01 L223.02 145.47 L224.06 144.97 L225.1 144.5 L226.14 144.06 L227.18 143.64 L228.23 143.25 L229.27 142.89 L230.31 142.54 L231.35 142.22 L232.39 141.91 L233.43 141.63 L234.47 141.36 L235.51 141.11 L236.56 140.87 L237.6 140.64 L238.64 140.43 L239.68 140.23 L240.72 140.04 L241.76 139.86 L242.8 139.69 L243.84 139.54 L244.89 139.39 L245.93 139.24 L246.97 139.11 L248.01 138.98 L249.05 138.86 L250.09 138.75 L251.13 138.64 L252.18 138.54 L253.22 138.45 L254.26 138.36 L255.3 138.27 L256.34 138.19 L257.38 138.11 L258.42 138.04 L259.46 137.97 L260.51 137.91 L261.55 137.85 L262.59 137.79 L263.63 137.73 L264.67 137.68 L265.71 137.63 L266.75 137.59 L267.8 137.54 L268.84 137.5 L269.88 137.46 L270.92 137.42 L271.96 137.39 L273 137.35 L274.04 137.32 L275.08 137.29 L276.13 137.26 L277.17 137.24 L278.21 137.21 L279.25 137.19 L280.29 137.16 L281.33 137.14 L282.37 137.12 L283.41 137.1 L284.46 137.08 L285.5 137.07 L286.54 137.05 L287.58 137.03 L288.62 137.02 L289.66 137 L290.7 136.99 L291.75 136.98 L292.79 136.97 L293.83 136.95 L294.87 136.94 L295.91 136.93 L296.95 136.92 L297.99 136.91 L299.03 136.9 L300.08 136.9 L301.12 136.89 L302.16 136.88 L303.2 136.87 L304.24 136.87 L305.28 136.86 L306.32 136.85 L307.37 136.85 L308.41 136.84 L309.45 136.84 L310.49 136.83 L311.53 136.83 L312.57 136.82 L313.61 136.82 L314.65 136.82 L315.7 136.81 L316.74 136.81 L317.78 136.81 L318.82 136.8 L319.86 136.8 L320.9 136.8 L321.94 136.79 L322.98 136.79 L324.03 136.79 L325.07 136.79 L326.11 136.78 L327.15 136.78" fill="none" stroke="#ff0000" stroke-width="2" stroke-dasharray="4.3 4.01" stroke-linejoin="round"/>
</g>
<path d="M70.98 29.1 v3.7 M78.9 29.1 v3.7 M84.51 29.1 v3.7 M88.87 29.1 v3.7 M92.43 29.1 v3.7 M95.44 29.1 v3.7 M98.04 29.1 v3.7 M100.34 29.1 v3.7 M102.4 29.1 v5.6 M115.93 29.1 v3.7 M123.85 29.1 v3.7 M129.46 29.1 v3.7 M133.82 29.1 v3.7 M137.38 29.1 v3.7 M140.39 29.1 v3.7 M142.99 29.1 v3.7 M145.29 29.1 v3.7 M147.35 29.1 v5.6 M160.88 29.1 v3.7 M168.8 29.1 v3.7 M174.41 29.1 v3.7 M178.77 29.1 v3.7 M182.33 29.1 v3.7 M185.34 29.1 v3.7 M187.94 29.1 v3.7 M190.24 29.1 v3.7 M192.3 29.1 v5.6 M205.83 29.1 v3.7 M213.75 29.1 v3.7 M219.36 29.1 v3.7 M223.72 29.1 v3.7 M227.28 29.1 v3.7 M230.29 29.1 v3.7 M232.89 29.1 v3.7 M235.19 29.1 v3.7 M237.25 29.1 v5.6 M250.78 29.1 v3.7 M258.7 29.1 v3.7 M264.31 29.1 v3.7 M268.67 29.1 v3.7 M272.23 29.1 v3.7 M275.24 29.1 v3.7 M277.84 29.1 v3.7 M280.14 29.1 v3.7 M282.2 29.1 v5.6 M295.73 29.1 v3.7 M303.65 29.1 v3.7 M309.26 29.1 v3.7 M313.62 29.1 v3.7 M317.18 29.1 v3.7 M320.19 29.1 v3.7 M322.79 29.1 v3.7 M325.09 29.1 v3.7 M327.15 219.37 h-3.7 M327.15 216.47 h-3.7 M327.15 213.97 h-3.7 M327.15 211.76 h-3.7 M327.15 209.78 h-5.6 M327.15 196.77 h-3.7 M327.15 189.16 h-3.7 M327.15 183.76 h-3.7 M327.15 179.57 h-3.7 M327.15 176.15 h-3.7 M327.15 173.25 h-3.7 M327.15 170.75 h-3.7 M327.15 168.54 h-3.7 M327.15 166.56 h-5.6 M327.15 153.55 h-3.7 M327.15 145.94 h-3.7 M327.15 140.54 h-3.7 M327.15 136.35 h-3.7 M327.15 132.93 h-3.7 M327.15 130.03 h-3.7 M327.15 127.53 h-3.7 M327.15 125.32 h-3.7 M327.15 123.34 h-5.6 M327.15 110.33 h-3.7 M327.15 102.72 h-3.7 M327.15 97.32 h-3.7 M327.15 93.13 h-3.7 M327.15 89.71 h-3.7 M327.15 86.81 h-3.7 M327.15 84.31 h-3.7 M327.15 82.1 h-3.7 M327.15 80.12 h-5.6 M327.15 67.11 h-3.7 M327.15 59.5 h-3.7 M327.15 54.1 h-3.7 M327.15 49.91 h-3.7 M57.45 46.49 h3.7 M327.15 46.49 h-3.7 M57.45 43.59 h3.7 M327.15 43.59 h-3.7 M57.45 41.09 h3.7 M327.15 41.09 h-3.7 M57.45 38.88 h3.7 M327.15 38.88 h-3.7 M57.45 36.9 h5.6 M327.15 36.9 h-5.6" stroke="#6a6a6a" stroke-width="0.65" fill="none"/>
<path d="M70.98 253 v-3.7 M78.9 253 v-3.7 M84.51 253 v-3.7 M88.87 253 v-3.7 M92.43 253 v-3.7 M95.44 253 v-3.7 M98.04 253 v-3.7 M100.34 253 v-3.7 M102.4 253 v-5.6 M115.93 253 v-3.7 M123.85 253 v-3.7 M129.46 253 v-3.7 M133.82 253 v-3.7 M137.38 253 v-3.7 M140.39 253 v-3.7 M142.99 253 v-3.7 M145.29 253 v-3.7 M147.35 253 v-5.6 M160.88 253 v-3.7 M168.8 253 v-3.7 M174.41 253 v-3.7 M178.77 253 v-3.7 M182.33 253 v-3.7 M185.34 253 v-3.7 M187.94 253 v-3.7 M190.24 253 v-3.7 M192.3 253 v-5.6 M205.83 253 v-3.7 M213.75 253 v-3.7 M219.36 253 v-3.7 M223.72 253 v-3.7 M227.28 253 v-3.7 M230.29 253 v-3.7 M232.89 253 v-3.7 M235.19 253 v-3.7 M237.25 253 v-5.6 M250.78 253 v-3.7 M258.7 253 v-3.7 M264.31 253 v-3.7 M268.67 253 v-3.7 M272.23 253 v-3.7 M275.24 253 v-3.7 M277.84 253 v-3.7 M280.14 253 v-3.7 M282.2 253 v-5.6 M295.73 253 v-3.7 M303.65 253 v-3.7 M309.26 253 v-3.7 M313.62 253 v-3.7 M317.18 253 v-3.7 M320.19 253 v-3.7 M322.79 253 v-3.7 M325.09 253 v-3.7 M57.45 239.99 h3.7 M327.15 239.99 h-3.7 M57.45 232.38 h3.7 M327.15 232.38 h-3.7 M57.45 226.98 h3.7 M327.15 226.98 h-3.7 M57.45 222.79 h3.7 M327.15 222.79 h-3.7 M57.45 219.37 h3.7 M57.45 216.47 h3.7 M57.45 213.97 h3.7 M57.45 211.76 h3.7 M57.45 209.78 h5.6 M57.45 196.77 h3.7 M57.45 189.16 h3.7 M57.45 183.76 h3.7 M57.45 179.57 h3.7 M57.45 176.15 h3.7 M57.45 173.25 h3.7 M57.45 170.75 h3.7 M57.45 168.54 h3.7 M57.45 166.56 h5.6 M57.45 153.55 h3.7 M57.45 145.94 h3.7 M57.45 140.54 h3.7 M57.45 136.35 h3.7 M57.45 132.93 h3.7 M57.45 130.03 h3.7 M57.45 127.53 h3.7 M57.45 125.32 h3.7 M57.45 123.34 h5.6 M57.45 110.33 h3.7 M57.45 102.72 h3.7 M57.45 97.32 h3.7 M57.45 93.13 h3.7 M57.45 89.71 h3.7 M57.45 86.81 h3.7 M57.45 84.31 h3.7 M57.45 82.1 h3.7 M57.45 80.12 h5.6 M57.45 67.11 h3.7 M57.45 59.5 h3.7 M57.45 54.1 h3.7 M57.45 49.91 h3.7" stroke="#6a6a6a" stroke-width="0.65" stroke-opacity="0.4" fill="none"/>
<rect x="57.45" y="29.1" width="269.7" height="223.9" fill="none" stroke="#626262" stroke-width="1.1"/>
<path d="M57.75 49.54 L57.75 123.34" stroke="#c8f5c8" stroke-width="0.6" stroke-opacity="0.55" fill="none"/>
<path d="M57.75 123.34 L57.75 222.79" stroke="#fff580" stroke-width="0.6" stroke-opacity="0.55" fill="none"/>
<path d="M57.75 222.79 L57.75 253" stroke="#cccccc" stroke-width="0.6" stroke-opacity="0.55" fill="none"/>
<path d="M57.45 252.7 L327.15 252.7" stroke="#cccccc" stroke-width="0.6" stroke-opacity="0.55" fill="none"/>
<path d="M326.85 222.79 L326.85 253" stroke="#cccccc" stroke-width="0.6" stroke-opacity="0.55" fill="none"/>
<g font-family="'Liberation Serif', serif" fill="#0d0d0d">
<g transform="translate(70.6 270.1)"><text transform="translate(0.4 -5.3) scale(1.14 1)" text-anchor="end" font-size="10.8">2</text><text x="-13.9" y="-5.3" font-size="10.8" textLength="7.0" lengthAdjust="spacingAndGlyphs">−</text><text transform="translate(-13.1 0) scale(0.91 1)" text-anchor="end" font-size="15.4">10</text></g>
<g transform="translate(115.55 270.1)"><text transform="translate(0.4 -5.3) scale(1.14 1)" text-anchor="end" font-size="10.8">1</text><text x="-13.9" y="-5.3" font-size="10.8" textLength="7.0" lengthAdjust="spacingAndGlyphs">−</text><text transform="translate(-13.1 0) scale(0.91 1)" text-anchor="end" font-size="15.4">10</text></g>
<g transform="translate(156.55 270.1)"><text transform="translate(0.4 -5.3) scale(1.14 1)" text-anchor="end" font-size="10.8">0</text><text transform="translate(-5.2 0) scale(0.91 1)" text-anchor="end" font-size="15.4">10</text></g>
<g transform="translate(201.5 270.1)"><text transform="translate(0.4 -5.3) scale(1.14 1)" text-anchor="end" font-size="10.8">1</text><text transform="translate(-5.2 0) scale(0.91 1)" text-anchor="end" font-size="15.4">10</text></g>
<g transform="translate(246.45 270.1)"><text transform="translate(0.4 -5.3) scale(1.14 1)" text-anchor="end" font-size="10.8">2</text><text transform="translate(-5.2 0) scale(0.91 1)" text-anchor="end" font-size="15.4">10</text></g>
<g transform="translate(291.4 270.1)"><text transform="translate(0.4 -5.3) scale(1.14 1)" text-anchor="end" font-size="10.8">3</text><text transform="translate(-5.2 0) scale(0.91 1)" text-anchor="end" font-size="15.4">10</text></g>
<g transform="translate(336.35 270.1)"><text transform="translate(0.4 -5.3) scale(1.14 1)" text-anchor="end" font-size="10.8">4</text><text transform="translate(-5.2 0) scale(0.91 1)" text-anchor="end" font-size="15.4">10</text></g>
<g transform="translate(51.25 259.4)"><text transform="translate(0.4 -5.3) scale(1.14 1)" text-anchor="end" font-size="10.8">3</text><text x="-13.9" y="-5.3" font-size="10.8" textLength="7.0" lengthAdjust="spacingAndGlyphs">−</text><text transform="translate(-13.1 0) scale(0.91 1)" text-anchor="end" font-size="15.4">10</text></g>
<g transform="translate(51.25 216.18)"><text transform="translate(0.4 -5.3) scale(1.14 1)" text-anchor="end" font-size="10.8">2</text><text x="-13.9" y="-5.3" font-size="10.8" textLength="7.0" lengthAdjust="spacingAndGlyphs">−</text><text transform="translate(-13.1 0) scale(0.91 1)" text-anchor="end" font-size="15.4">10</text></g>
<g transform="translate(51.25 172.96)"><text transform="translate(0.4 -5.3) scale(1.14 1)" text-anchor="end" font-size="10.8">1</text><text x="-13.9" y="-5.3" font-size="10.8" textLength="7.0" lengthAdjust="spacingAndGlyphs">−</text><text transform="translate(-13.1 0) scale(0.91 1)" text-anchor="end" font-size="15.4">10</text></g>
<g transform="translate(51.25 129.74)"><text transform="translate(0.4 -5.3) scale(1.14 1)" text-anchor="end" font-size="10.8">0</text><text transform="translate(-5.2 0) scale(0.91 1)" text-anchor="end" font-size="15.4">10</text></g>
<g transform="translate(51.25 86.52)"><text transform="translate(0.4 -5.3) scale(1.14 1)" text-anchor="end" font-size="10.8">1</text><text transform="translate(-5.2 0) scale(0.91 1)" text-anchor="end" font-size="15.4">10</text></g>
<g transform="translate(51.25 43.3)"><text transform="translate(0.4 -5.3) scale(1.14 1)" text-anchor="end" font-size="10.8">2</text><text transform="translate(-5.2 0) scale(0.91 1)" text-anchor="end" font-size="15.4">10</text></g>
</g>
<clipPath id="clipB"><rect x="405.6" y="29.1" width="269.7" height="223.9"/></clipPath>
<g clip-path="url(#clipB)">
<path d="M405.6 49.91 L406.64 49.91 L407.68 49.91 L408.72 49.91 L409.77 49.91 L410.81 49.91 L411.85 49.91 L412.89 49.91 L413.93 49.91 L414.97 49.92 L416.01 49.92 L417.05 49.92 L418.1 49.92 L419.14 49.92 L420.18 49.92 L421.22 49.92 L422.26 49.92 L423.3 49.92 L424.34 49.92 L425.38 49.92 L426.43 49.93 L427.47 49.93 L428.51 49.93 L429.55 49.93 L430.59 49.93 L431.63 49.94 L432.67 49.94 L433.72 49.94 L434.76 49.95 L435.8 49.95 L436.84 49.96 L437.88 49.96 L438.92 49.97 L439.96 49.97 L441 49.98 L442.05 49.99 L443.09 50 L444.13 50.01 L445.17 50.02 L446.21 50.03 L447.25 50.04 L448.29 50.06 L449.34 50.08 L450.38 50.09 L451.42 50.11 L452.46 50.14 L453.5 50.16 L454.54 50.19 L455.58 50.22 L456.62 50.26 L457.67 50.3 L458.71 50.34 L459.75 50.39 L460.79 50.44 L461.83 50.5 L462.87 50.56 L463.91 50.63 L464.95 50.71 L466 50.8 L467.04 50.9 L468.08 51.01 L469.12 51.13 L470.16 51.26 L471.2 51.41 L472.24 51.57 L473.29 51.75 L474.33 51.94 L475.37 52.16 L476.41 52.39 L477.45 52.65 L478.49 52.94 L479.53 53.25 L480.57 53.59 L481.62 53.97 L482.66 54.37 L483.7 54.81 L484.74 55.29 L485.78 55.81 L486.82 56.37 L487.86 56.98 L488.91 57.63 L489.95 58.33 L490.99 59.08 L492.03 59.88 L493.07 60.73 L494.11 61.63 L495.15 62.59 L496.19 63.6 L497.24 64.66 L498.28 65.78 L499.32 66.95 L500.36 68.17 L501.4 69.44 L502.44 70.76 L503.48 72.12 L504.52 73.54 L505.57 74.99 L506.61 76.49 L507.65 78.02 L508.69 79.6 L509.73 81.2 L510.77 82.84 L511.81 84.52 L512.86 86.22 L513.9 87.94 L514.94 89.69 L515.98 91.46 L517.02 93.26 L518.06 95.07 L519.1 96.9 L520.14 98.75 L521.19 100.61 L522.23 102.48 L523.27 104.37 L524.31 106.27 L525.35 108.18 L526.39 110.09 L527.43 112.02 L528.47 113.95 L529.52 115.89 L530.56 117.84 L531.6 119.79 L532.64 121.75 L533.68 123.71 L534.72 125.67 L535.76 127.64 L536.81 129.61 L537.85 131.59 L538.89 133.57 L539.93 135.55 L540.97 137.53 L542.01 139.51 L543.05 141.5 L544.09 143.49 L545.14 145.48 L546.18 147.47 L547.22 149.46 L548.26 151.45 L549.3 153.45 L550.34 155.44 L551.38 157.44 L552.43 159.43 L553.47 161.43 L554.51 163.43 L555.55 165.43 L556.59 167.42 L557.63 169.42 L558.67 171.42 L559.71 173.42 L560.76 175.42 L561.8 177.42 L562.84 179.42 L563.88 181.42 L564.92 183.42 L565.96 185.42 L567 187.43 L568.04 189.43 L569.09 191.43 L570.13 193.43 L571.17 195.43 L572.21 197.43 L573.25 199.43 L574.29 201.44 L575.33 203.44 L576.38 205.44 L577.42 207.44 L578.46 209.44 L579.5 211.45 L580.54 213.45 L581.58 215.45 L582.62 217.45 L583.66 219.46 L584.71 221.46 L585.75 223.46 L586.79 225.46 L587.83 227.46 L588.87 229.47 L589.91 231.47 L590.95 233.47 L591.99 235.47 L593.04 237.48 L594.08 239.48 L595.12 241.48 L596.16 243.48 L597.2 245.49 L598.24 247.49 L599.28 249.49 L600.33 251.49 L601.37 253.5 L602.41 255.5 L603.45 257.5 L604.49 259.5 L605.53 261.51 L606.57 263.51 L607.61 265.51 L608.66 267.51 L609.7 269.51 L610.74 271.52 L611.78 273.52 L612.82 275.52 L613.86 277.52 L614.9 279.53 L615.95 281.53 L616.99 283.53 L618.03 285.53 L619.07 287.54 L620.11 289.54 L621.15 291.54 L622.19 293.54 L623.23 295.55 L624.28 297.55 L625.32 299.55 L626.36 301.55 L627.4 303.56 L628.44 305.56 L629.48 307.56 L630.52 309.56 L631.56 311.57 L632.61 313.57 L633.65 315.57 L634.69 317.57 L635.73 319.58 L636.77 321.58 L637.81 323.58 L638.85 325.58 L639.9 327.59 L640.94 329.59 L641.98 331.59 L643.02 333.59 L644.06 335.6 L645.1 337.6 L646.14 339.6 L647.18 341.6 L648.23 343.61 L649.27 345.61 L650.31 347.61 L651.35 349.61 L652.39 351.62 L653.43 353.62 L654.47 355.62 L655.52 357.62 L656.56 359.63 L657.6 361.63 L658.64 363.63 L659.68 365.63 L660.72 367.64 L661.76 369.64 L662.8 371.64 L663.85 373.64 L664.89 375.65 L665.93 377.65 L666.97 379.65 L668.01 381.65 L669.05 383.66 L670.09 385.66 L671.13 387.66 L672.18 389.66 L673.22 391.67 L674.26 393.67 L675.3 395.67 L675.3 253 L405.6 253 Z" fill="#c8f5c8"/>
<path d="M405.6 123.34 L406.64 123.34 L407.68 123.34 L408.72 123.34 L409.77 123.34 L410.81 123.34 L411.85 123.34 L412.89 123.34 L413.93 123.34 L414.97 123.34 L416.01 123.35 L417.05 123.35 L418.1 123.35 L419.14 123.35 L420.18 123.35 L421.22 123.35 L422.26 123.35 L423.3 123.35 L424.34 123.35 L425.38 123.35 L426.43 123.36 L427.47 123.36 L428.51 123.36 L429.55 123.36 L430.59 123.36 L431.63 123.37 L432.67 123.37 L433.72 123.37 L434.76 123.38 L435.8 123.38 L436.84 123.39 L437.88 123.39 L438.92 123.4 L439.96 123.4 L441 123.41 L442.05 123.42 L443.09 123.43 L444.13 123.44 L445.17 123.45 L446.21 123.46 L447.25 123.47 L448.29 123.49 L449.34 123.51 L450.38 123.52 L451.42 123.54 L452.46 123.57 L453.5 123.59 L454.54 123.62 L455.58 123.65 L456.62 123.69 L457.67 123.73 L458.71 123.77 L459.75 123.82 L460.79 123.87 L461.83 123.93 L462.87 123.99 L463.91 124.06 L464.95 124.14 L466 124.23 L467.04 124.33 L468.08 124.44 L469.12 124.56 L470.16 124.69 L471.2 124.84 L472.24 125 L473.29 125.18 L474.33 125.37 L475.37 125.59 L476.41 125.82 L477.45 126.08 L478.49 126.37 L479.53 126.68 L480.57 127.02 L481.62 127.39 L482.66 127.8 L483.7 128.24 L484.74 128.72 L485.78 129.24 L486.82 129.8 L487.86 130.41 L488.91 131.06 L489.95 131.76 L490.99 132.51 L492.03 133.31 L493.07 134.16 L494.11 135.06 L495.15 136.02 L496.19 137.03 L497.24 138.09 L498.28 139.21 L499.32 140.38 L500.36 141.6 L501.4 142.87 L502.44 144.19 L503.48 145.55 L504.52 146.97 L505.57 148.42 L506.61 149.92 L507.65 151.45 L508.69 153.03 L509.73 154.63 L510.77 156.27 L511.81 157.95 L512.86 159.64 L513.9 161.37 L514.94 163.12 L515.98 164.89 L517.02 166.69 L518.06 168.5 L519.1 170.33 L520.14 172.18 L521.19 174.04 L522.23 175.91 L523.27 177.8 L524.31 179.7 L525.35 181.61 L526.39 183.52 L527.43 185.45 L528.47 187.38 L529.52 189.32 L530.56 191.27 L531.6 193.22 L532.64 195.17 L533.68 197.14 L534.72 199.1 L535.76 201.07 L536.81 203.04 L537.85 205.02 L538.89 207 L539.93 208.98 L540.97 210.96 L542.01 212.94 L543.05 214.93 L544.09 216.92 L545.14 218.91 L546.18 220.9 L547.22 222.89 L548.26 224.88 L549.3 226.88 L550.34 228.87 L551.38 230.87 L552.43 232.86 L553.47 234.86 L554.51 236.86 L555.55 238.86 L556.59 240.85 L557.63 242.85 L558.67 244.85 L559.71 246.85 L560.76 248.85 L561.8 250.85 L562.84 252.85 L563.88 254.85 L564.92 256.85 L565.96 258.85 L567 260.86 L568.04 262.86 L569.09 264.86 L570.13 266.86 L571.17 268.86 L572.21 270.86 L573.25 272.86 L574.29 274.87 L575.33 276.87 L576.38 278.87 L577.42 280.87 L578.46 282.87 L579.5 284.88 L580.54 286.88 L581.58 288.88 L582.62 290.88 L583.66 292.88 L584.71 294.89 L585.75 296.89 L586.79 298.89 L587.83 300.89 L588.87 302.9 L589.91 304.9 L590.95 306.9 L591.99 308.9 L593.04 310.91 L594.08 312.91 L595.12 314.91 L596.16 316.91 L597.2 318.92 L598.24 320.92 L599.28 322.92 L600.33 324.92 L601.37 326.92 L602.41 328.93 L603.45 330.93 L604.49 332.93 L605.53 334.93 L606.57 336.94 L607.61 338.94 L608.66 340.94 L609.7 342.94 L610.74 344.95 L611.78 346.95 L612.82 348.95 L613.86 350.95 L614.9 352.96 L615.95 354.96 L616.99 356.96 L618.03 358.96 L619.07 360.97 L620.11 362.97 L621.15 364.97 L622.19 366.97 L623.23 368.98 L624.28 370.98 L625.32 372.98 L626.36 374.98 L627.4 376.99 L628.44 378.99 L629.48 380.99 L630.52 382.99 L631.56 385 L632.61 387 L633.65 389 L634.69 391 L635.73 393.01 L636.77 395.01 L637.81 397.01 L638.85 399.01 L639.9 401.02 L640.94 403.02 L641.98 405.02 L643.02 407.02 L644.06 409.03 L645.1 411.03 L646.14 413.03 L647.18 415.03 L648.23 417.04 L649.27 419.04 L650.31 421.04 L651.35 423.04 L652.39 425.05 L653.43 427.05 L654.47 429.05 L655.52 431.05 L656.56 433.06 L657.6 435.06 L658.64 437.06 L659.68 439.06 L660.72 441.07 L661.76 443.07 L662.8 445.07 L663.85 447.07 L664.89 449.08 L665.93 451.08 L666.97 453.08 L668.01 455.08 L669.05 457.09 L670.09 459.09 L671.13 461.09 L672.18 463.09 L673.22 465.1 L674.26 467.1 L675.3 469.1 L675.3 253 L405.6 253 Z" fill="#fff580"/>
<rect x="405.6" y="222.79" width="269.7" height="30.21" fill="#cccccc"/>
<clipPath id="hatchB"><path d="M405.6 110.33 L406.64 110.33 L407.68 110.33 L408.72 110.33 L409.77 110.33 L410.81 110.33 L411.85 110.33 L412.89 110.33 L413.93 110.33 L414.97 110.33 L416.01 110.33 L417.05 110.34 L418.1 110.34 L419.14 110.34 L420.18 110.34 L421.22 110.34 L422.26 110.34 L423.3 110.34 L424.34 110.34 L425.38 110.34 L426.43 110.35 L427.47 110.35 L428.51 110.35 L429.55 110.35 L430.59 110.35 L431.63 110.36 L432.67 110.36 L433.72 110.36 L434.76 110.37 L435.8 110.37 L436.84 110.38 L437.88 110.38 L438.92 110.39 L439.96 110.39 L441 110.4 L442.05 110.41 L443.09 110.42 L444.13 110.43 L445.17 110.44 L446.21 110.45 L447.25 110.46 L448.29 110.48 L449.34 110.49 L450.38 110.51 L451.42 110.53 L452.46 110.56 L453.5 110.58 L454.54 110.61 L455.58 110.64 L456.62 110.68 L457.67 110.71 L458.71 110.76 L459.75 110.81 L460.79 110.86 L461.83 110.92 L462.87 110.98 L463.91 111.05 L464.95 111.13 L466 111.22 L467.04 111.32 L468.08 111.43 L469.12 111.55 L470.16 111.68 L471.2 111.83 L472.24 111.99 L473.29 112.16 L474.33 112.36 L475.37 112.58 L476.41 112.81 L477.45 113.07 L478.49 113.36 L479.53 113.67 L480.57 114.01 L481.62 114.38 L482.66 114.79 L483.7 115.23 L484.74 115.71 L485.78 116.23 L486.82 116.79 L487.86 117.4 L488.91 118.05 L489.95 118.75 L490.99 119.5 L492.03 120.3 L493.07 121.15 L494.11 122.05 L495.15 123.01 L496.19 124.02 L497.24 125.08 L498.28 126.2 L499.32 127.37 L500.36 128.59 L501.4 129.86 L502.44 131.18 L503.48 132.54 L504.52 133.96 L505.57 135.41 L506.61 136.91 L507.65 138.44 L508.69 140.02 L509.73 141.62 L510.77 143.26 L511.81 144.93 L512.86 146.63 L513.9 148.36 L514.94 150.11 L515.98 151.88 L517.02 153.68 L518.06 155.49 L519.1 157.32 L520.14 159.17 L521.19 161.03 L522.23 162.9 L523.27 164.79 L524.31 166.69 L525.35 168.6 L526.39 170.51 L527.43 172.44 L528.47 174.37 L529.52 176.31 L530.56 178.26 L531.6 180.21 L532.64 182.16 L533.68 184.13 L534.72 186.09 L535.76 188.06 L536.81 190.03 L537.85 192.01 L538.89 193.98 L539.93 195.97 L540.97 197.95 L542.01 199.93 L543.05 201.92 L544.09 203.91 L545.14 205.9 L546.18 207.89 L547.22 209.88 L548.26 211.87 L549.3 213.87 L550.34 215.86 L551.38 217.86 L552.43 219.85 L553.47 221.85 L554.51 223.85 L555.55 225.85 L556.59 227.84 L557.63 229.84 L558.67 231.84 L559.71 233.84 L560.76 235.84 L561.8 237.84 L562.84 239.84 L563.88 241.84 L564.92 243.84 L565.96 245.84 L567 247.84 L568.04 249.85 L569.09 251.85 L570.13 253.85 L571.17 255.85 L572.21 257.85 L573.25 259.85 L574.29 261.86 L575.33 263.86 L576.38 265.86 L577.42 267.86 L578.46 269.86 L579.5 271.87 L580.54 273.87 L581.58 275.87 L582.62 277.87 L583.66 279.87 L584.71 281.88 L585.75 283.88 L586.79 285.88 L587.83 287.88 L588.87 289.89 L589.91 291.89 L590.95 293.89 L591.99 295.89 L593.04 297.9 L594.08 299.9 L595.12 301.9 L596.16 303.9 L597.2 305.9 L598.24 307.91 L599.28 309.91 L600.33 311.91 L601.37 313.91 L602.41 315.92 L603.45 317.92 L604.49 319.92 L605.53 321.92 L606.57 323.93 L607.61 325.93 L608.66 327.93 L609.7 329.93 L610.74 331.94 L611.78 333.94 L612.82 335.94 L613.86 337.94 L614.9 339.95 L615.95 341.95 L616.99 343.95 L618.03 345.95 L619.07 347.96 L620.11 349.96 L621.15 351.96 L622.19 353.96 L623.23 355.97 L624.28 357.97 L625.32 359.97 L626.36 361.97 L627.4 363.98 L628.44 365.98 L629.48 367.98 L630.52 369.98 L631.56 371.99 L632.61 373.99 L633.65 375.99 L634.69 377.99 L635.73 380 L636.77 382 L637.81 384 L638.85 386 L639.9 388.01 L640.94 390.01 L641.98 392.01 L643.02 394.01 L644.06 396.02 L645.1 398.02 L646.14 400.02 L647.18 402.02 L648.23 404.03 L649.27 406.03 L650.31 408.03 L651.35 410.03 L652.39 412.04 L653.43 414.04 L654.47 416.04 L655.52 418.04 L656.56 420.05 L657.6 422.05 L658.64 424.05 L659.68 426.05 L660.72 428.05 L661.76 430.06 L662.8 432.06 L663.85 434.06 L664.89 436.06 L665.93 438.07 L666.97 440.07 L668.01 442.07 L669.05 444.07 L670.09 446.08 L671.13 448.08 L672.18 450.08 L673.22 452.08 L674.26 454.09 L675.3 456.09 L675.3 296.22 L674.26 295.22 L673.22 294.22 L672.18 293.21 L671.13 292.21 L670.09 291.21 L669.05 290.21 L668.01 289.21 L666.97 288.21 L665.93 287.21 L664.89 286.2 L663.85 285.2 L662.8 284.2 L661.76 283.2 L660.72 282.2 L659.68 281.2 L658.64 280.2 L657.6 279.19 L656.56 278.19 L655.52 277.19 L654.47 276.19 L653.43 275.19 L652.39 274.19 L651.35 273.19 L650.31 272.18 L649.27 271.18 L648.23 270.18 L647.18 269.18 L646.14 268.18 L645.1 267.18 L644.06 266.17 L643.02 265.17 L641.98 264.17 L640.94 263.17 L639.9 262.17 L638.85 261.16 L637.81 260.16 L636.77 259.16 L635.73 258.16 L634.69 257.16 L633.65 256.15 L632.61 255.15 L631.56 254.15 L630.52 253.15 L629.48 252.15 L628.44 251.14 L627.4 250.14 L626.36 249.14 L625.32 248.14 L624.28 247.13 L623.23 246.13 L622.19 245.13 L621.15 244.13 L620.11 243.12 L619.07 242.12 L618.03 241.12 L616.99 240.11 L615.95 239.11 L614.9 238.11 L613.86 237.1 L612.82 236.1 L611.78 235.1 L610.74 234.09 L609.7 233.09 L608.66 232.08 L607.61 231.08 L606.57 230.08 L605.53 229.07 L604.49 228.07 L603.45 227.06 L602.41 226.06 L601.37 225.05 L600.33 224.04 L599.28 223.04 L598.24 222.03 L597.2 221.03 L596.16 220.02 L595.12 219.01 L594.08 218 L593.04 217 L591.99 215.99 L590.95 214.98 L589.91 213.97 L588.87 212.96 L587.83 211.95 L586.79 210.94 L585.75 209.93 L584.71 208.92 L583.66 207.91 L582.62 206.9 L581.58 205.88 L580.54 204.87 L579.5 203.86 L578.46 202.84 L577.42 201.83 L576.38 200.81 L575.33 199.79 L574.29 198.77 L573.25 197.76 L572.21 196.74 L571.17 195.72 L570.13 194.69 L569.09 193.67 L568.04 192.65 L567 191.62 L565.96 190.6 L564.92 189.57 L563.88 188.54 L562.84 187.51 L561.8 186.48 L560.76 185.44 L559.71 184.41 L558.67 183.37 L557.63 182.33 L556.59 181.29 L555.55 180.25 L554.51 179.21 L553.47 178.16 L552.43 177.11 L551.38 176.06 L550.34 175.01 L549.3 173.95 L548.26 172.9 L547.22 171.84 L546.18 170.77 L545.14 169.71 L544.09 168.64 L543.05 167.57 L542.01 166.49 L540.97 165.41 L539.93 164.33 L538.89 163.25 L537.85 162.16 L536.81 161.07 L535.76 159.98 L534.72 158.88 L533.68 157.78 L532.64 156.67 L531.6 155.57 L530.56 154.46 L529.52 153.34 L528.47 152.23 L527.43 151.11 L526.39 149.99 L525.35 148.87 L524.31 147.74 L523.27 146.62 L522.23 145.49 L521.19 144.36 L520.14 143.24 L519.1 142.11 L518.06 140.99 L517.02 139.87 L515.98 138.76 L514.94 137.65 L513.9 136.54 L512.86 135.44 L511.81 134.36 L510.77 133.28 L509.73 132.21 L508.69 131.16 L507.65 130.13 L506.61 129.11 L505.57 128.11 L504.52 127.13 L503.48 126.18 L502.44 125.25 L501.4 124.35 L500.36 123.47 L499.32 122.63 L498.28 121.82 L497.24 121.03 L496.19 120.29 L495.15 119.57 L494.11 118.89 L493.07 118.25 L492.03 117.64 L490.99 117.07 L489.95 116.53 L488.91 116.02 L487.86 115.55 L486.82 115.11 L485.78 114.7 L484.74 114.32 L483.7 113.97 L482.66 113.64 L481.62 113.34 L480.57 113.07 L479.53 112.82 L478.49 112.59 L477.45 112.37 L476.41 112.18 L475.37 112.01 L474.33 111.85 L473.29 111.7 L472.24 111.57 L471.2 111.45 L470.16 111.34 L469.12 111.24 L468.08 111.15 L467.04 111.07 L466 111 L464.95 110.93 L463.91 110.87 L462.87 110.82 L461.83 110.77 L460.79 110.73 L459.75 110.69 L458.71 110.65 L457.67 110.62 L456.62 110.59 L455.58 110.56 L454.54 110.54 L453.5 110.52 L452.46 110.5 L451.42 110.48 L450.38 110.47 L449.34 110.45 L448.29 110.44 L447.25 110.43 L446.21 110.42 L445.17 110.41 L444.13 110.4 L443.09 110.39 L442.05 110.39 L441 110.38 L439.96 110.38 L438.92 110.37 L437.88 110.37 L436.84 110.36 L435.8 110.36 L434.76 110.36 L433.72 110.35 L432.67 110.35 L431.63 110.35 L430.59 110.35 L429.55 110.35 L428.51 110.34 L427.47 110.34 L426.43 110.34 L425.38 110.34 L424.34 110.34 L423.3 110.34 L422.26 110.34 L421.22 110.34 L420.18 110.34 L419.14 110.34 L418.1 110.33 L417.05 110.33 L416.01 110.33 L414.97 110.33 L413.93 110.33 L412.89 110.33 L411.85 110.33 L410.81 110.33 L409.77 110.33 L408.72 110.33 L407.68 110.33 L406.64 110.33 L405.6 110.33 Z"/></clipPath>
<g clip-path="url(#hatchB)"><path d="M408.92 29.1 V222.79 M413.13 29.1 V222.79 M417.33 29.1 V222.79 M421.53 29.1 V222.79 M425.74 29.1 V222.79 M429.94 29.1 V222.79 M434.14 29.1 V222.79 M438.34 29.1 V222.79 M442.55 29.1 V222.79 M446.75 29.1 V222.79 M450.95 29.1 V222.79 M455.16 29.1 V222.79 M459.36 29.1 V222.79 M463.56 29.1 V222.79 M467.76 29.1 V222.79 M471.97 29.1 V222.79 M476.17 29.1 V222.79 M480.37 29.1 V222.79 M484.58 29.1 V222.79 M488.78 29.1 V222.79 M492.98 29.1 V222.79 M497.19 29.1 V222.79 M501.39 29.1 V222.79 M505.59 29.1 V222.79 M509.79 29.1 V222.79 M514 29.1 V222.79 M518.2 29.1 V222.79 M522.4 29.1 V222.79 M526.61 29.1 V222.79 M530.81 29.1 V222.79 M535.01 29.1 V222.79 M539.22 29.1 V222.79 M543.42 29.1 V222.79 M547.62 29.1 V222.79 M551.83 29.1 V222.79 M556.03 29.1 V222.79 M560.23 29.1 V222.79 M564.43 29.1 V222.79 M568.64 29.1 V222.79 M572.84 29.1 V222.79 M577.04 29.1 V222.79 M581.25 29.1 V222.79 M585.45 29.1 V222.79 M589.65 29.1 V222.79 M593.86 29.1 V222.79 M598.06 29.1 V222.79 M602.26 29.1 V222.79 M606.46 29.1 V222.79 M610.67 29.1 V222.79 M614.87 29.1 V222.79 M619.07 29.1 V222.79 M623.28 29.1 V222.79 M627.48 29.1 V222.79 M631.68 29.1 V222.79 M635.88 29.1 V222.79 M640.09 29.1 V222.79 M644.29 29.1 V222.79 M648.49 29.1 V222.79 M652.7 29.1 V222.79 M656.9 29.1 V222.79 M661.1 29.1 V222.79 M665.31 29.1 V222.79 M669.51 29.1 V222.79 M673.71 29.1 V222.79" stroke="#000" stroke-opacity="0.78" stroke-width="0.7" fill="none"/><path d="M408.92 222.79 V253 M413.13 222.79 V253 M417.33 222.79 V253 M421.53 222.79 V253 M425.74 222.79 V253 M429.94 222.79 V253 M434.14 222.79 V253 M438.34 222.79 V253 M442.55 222.79 V253 M446.75 222.79 V253 M450.95 222.79 V253 M455.16 222.79 V253 M459.36 222.79 V253 M463.56 222.79 V253 M467.76 222.79 V253 M471.97 222.79 V253 M476.17 222.79 V253 M480.37 222.79 V253 M484.58 222.79 V253 M488.78 222.79 V253 M492.98 222.79 V253 M497.19 222.79 V253 M501.39 222.79 V253 M505.59 222.79 V253 M509.79 222.79 V253 M514 222.79 V253 M518.2 222.79 V253 M522.4 222.79 V253 M526.61 222.79 V253 M530.81 222.79 V253 M535.01 222.79 V253 M539.22 222.79 V253 M543.42 222.79 V253 M547.62 222.79 V253 M551.83 222.79 V253 M556.03 222.79 V253 M560.23 222.79 V253 M564.43 222.79 V253 M568.64 222.79 V253 M572.84 222.79 V253 M577.04 222.79 V253 M581.25 222.79 V253 M585.45 222.79 V253 M589.65 222.79 V253 M593.86 222.79 V253 M598.06 222.79 V253 M602.26 222.79 V253 M606.46 222.79 V253 M610.67 222.79 V253 M614.87 222.79 V253 M619.07 222.79 V253 M623.28 222.79 V253 M627.48 222.79 V253 M631.68 222.79 V253 M635.88 222.79 V253 M640.09 222.79 V253 M644.29 222.79 V253 M648.49 222.79 V253 M652.7 222.79 V253 M656.9 222.79 V253 M661.1 222.79 V253 M665.31 222.79 V253 M669.51 222.79 V253 M673.71 222.79 V253" stroke="#000" stroke-opacity="0.36" stroke-width="0.7" fill="none"/></g>
<path d="M405.6 110.33 L406.64 110.33 L407.68 110.33 L408.72 110.33 L409.77 110.33 L410.81 110.33 L411.85 110.33 L412.89 110.33 L413.93 110.33 L414.97 110.33 L416.01 110.33 L417.05 110.33 L418.1 110.33 L419.14 110.34 L420.18 110.34 L421.22 110.34 L422.26 110.34 L423.3 110.34 L424.34 110.34 L425.38 110.34 L426.43 110.34 L427.47 110.34 L428.51 110.34 L429.55 110.35 L430.59 110.35 L431.63 110.35 L432.67 110.35 L433.72 110.35 L434.76 110.36 L435.8 110.36 L436.84 110.36 L437.88 110.37 L438.92 110.37 L439.96 110.38 L441 110.38 L442.05 110.39 L443.09 110.39 L444.13 110.4 L445.17 110.41 L446.21 110.42 L447.25 110.43 L448.29 110.44 L449.34 110.45 L450.38 110.47 L451.42 110.48 L452.46 110.5 L453.5 110.52 L454.54 110.54 L455.58 110.56 L456.62 110.59 L457.67 110.62 L458.71 110.65 L459.75 110.69 L460.79 110.73 L461.83 110.77 L462.87 110.82 L463.91 110.87 L464.95 110.93 L466 111 L467.04 111.07 L468.08 111.15 L469.12 111.24 L470.16 111.34 L471.2 111.45 L472.24 111.57 L473.29 111.7 L474.33 111.85 L475.37 112.01 L476.41 112.18 L477.45 112.37 L478.49 112.59 L479.53 112.82 L480.57 113.07 L481.62 113.34 L482.66 113.64 L483.7 113.97 L484.74 114.32 L485.78 114.7 L486.82 115.11 L487.86 115.55 L488.91 116.02 L489.95 116.53 L490.99 117.07 L492.03 117.64 L493.07 118.25 L494.11 118.89 L495.15 119.57 L496.19 120.29 L497.24 121.03 L498.28 121.82 L499.32 122.63 L500.36 123.47 L501.4 124.35 L502.44 125.25 L503.48 126.18 L504.52 127.13 L505.57 128.11 L506.61 129.11 L507.65 130.13 L508.69 131.16 L509.73 132.21 L510.77 133.28 L511.81 134.36 L512.86 135.44 L513.9 136.54 L514.94 137.65 L515.98 138.76 L517.02 139.87 L518.06 140.99 L519.1 142.11 L520.14 143.24 L521.19 144.36 L522.23 145.49 L523.27 146.62 L524.31 147.74 L525.35 148.87 L526.39 149.99 L527.43 151.11 L528.47 152.23 L529.52 153.34 L530.56 154.46 L531.6 155.57 L532.64 156.67 L533.68 157.78 L534.72 158.88 L535.76 159.98 L536.81 161.07 L537.85 162.16 L538.89 163.25 L539.93 164.33 L540.97 165.41 L542.01 166.49 L543.05 167.57 L544.09 168.64 L545.14 169.71 L546.18 170.77 L547.22 171.84 L548.26 172.9 L549.3 173.95 L550.34 175.01 L551.38 176.06 L552.43 177.11 L553.47 178.16 L554.51 179.21 L555.55 180.25 L556.59 181.29 L557.63 182.33 L558.67 183.37 L559.71 184.41 L560.76 185.44 L561.8 186.48 L562.84 187.51 L563.88 188.54 L564.92 189.57 L565.96 190.6 L567 191.62 L568.04 192.65 L569.09 193.67 L570.13 194.69 L571.17 195.72 L572.21 196.74 L573.25 197.76 L574.29 198.77 L575.33 199.79 L576.38 200.81 L577.42 201.83 L578.46 202.84 L579.5 203.86 L580.54 204.87 L581.58 205.88 L582.62 206.9 L583.66 207.91 L584.71 208.92 L585.75 209.93 L586.79 210.94 L587.83 211.95 L588.87 212.96 L589.91 213.97 L590.95 214.98 L591.99 215.99 L593.04 217 L594.08 218 L595.12 219.01 L596.16 220.02 L597.2 221.03 L598.24 222.03 L599.28 223.04 L600.33 224.04 L601.37 225.05 L602.41 226.06 L603.45 227.06 L604.49 228.07 L605.53 229.07 L606.57 230.08 L607.61 231.08 L608.66 232.08 L609.7 233.09 L610.74 234.09 L611.78 235.1 L612.82 236.1 L613.86 237.1 L614.9 238.11 L615.95 239.11 L616.99 240.11 L618.03 241.12 L619.07 242.12 L620.11 243.12 L621.15 244.13 L622.19 245.13 L623.23 246.13 L624.28 247.13 L625.32 248.14 L626.36 249.14 L627.4 250.14 L628.44 251.14 L629.48 252.15 L630.52 253.15 L631.56 254.15 L632.61 255.15 L633.65 256.15 L634.69 257.16 L635.73 258.16 L636.77 259.16 L637.81 260.16 L638.85 261.16 L639.9 262.17 L640.94 263.17 L641.98 264.17 L643.02 265.17 L644.06 266.17 L645.1 267.18 L646.14 268.18 L647.18 269.18 L648.23 270.18 L649.27 271.18 L650.31 272.18 L651.35 273.19 L652.39 274.19 L653.43 275.19 L654.47 276.19 L655.52 277.19 L656.56 278.19 L657.6 279.19 L658.64 280.2 L659.68 281.2 L660.72 282.2 L661.76 283.2 L662.8 284.2 L663.85 285.2 L664.89 286.2 L665.93 287.21 L666.97 288.21 L668.01 289.21 L669.05 290.21 L670.09 291.21 L671.13 292.21 L672.18 293.21 L673.22 294.22 L674.26 295.22 L675.3 296.22" fill="none" stroke="#0000ff" stroke-width="2" stroke-linejoin="round"/>
<path d="M405.6 110.33 L406.64 110.33 L407.68 110.33 L408.72 110.33 L409.77 110.33 L410.81 110.33 L411.85 110.33 L412.89 110.33 L413.93 110.33 L414.97 110.33 L416.01 110.33 L417.05 110.34 L418.1 110.34 L419.14 110.34 L420.18 110.34 L421.22 110.34 L422.26 110.34 L423.3 110.34 L424.34 110.34 L425.38 110.34 L426.43 110.35 L427.47 110.35 L428.51 110.35 L429.55 110.35 L430.59 110.35 L431.63 110.36 L432.67 110.36 L433.72 110.36 L434.76 110.37 L435.8 110.37 L436.84 110.38 L437.88 110.38 L438.92 110.39 L439.96 110.39 L441 110.4 L442.05 110.41 L443.09 110.42 L444.13 110.43 L445.17 110.44 L446.21 110.45 L447.25 110.46 L448.29 110.48 L449.34 110.49 L450.38 110.51 L451.42 110.53 L452.46 110.56 L453.5 110.58 L454.54 110.61 L455.58 110.64 L456.62 110.68 L457.67 110.71 L458.71 110.76 L459.75 110.81 L460.79 110.86 L461.83 110.92 L462.87 110.98 L463.91 111.05 L464.95 111.13 L466 111.22 L467.04 111.32 L468.08 111.43 L469.12 111.55 L470.16 111.68 L471.2 111.83 L472.24 111.99 L473.29 112.16 L474.33 112.36 L475.37 112.58 L476.41 112.81 L477.45 113.07 L478.49 113.36 L479.53 113.67 L480.57 114.01 L481.62 114.38 L482.66 114.79 L483.7 115.23 L484.74 115.71 L485.78 116.23 L486.82 116.79 L487.86 117.4 L488.91 118.05 L489.95 118.75 L490.99 119.5 L492.03 120.3 L493.07 121.15 L494.11 122.05 L495.15 123.01 L496.19 124.02 L497.24 125.08 L498.28 126.2 L499.32 127.37 L500.36 128.59 L501.4 129.86 L502.44 131.18 L503.48 132.54 L504.52 133.96 L505.57 135.41 L506.61 136.91 L507.65 138.44 L508.69 140.02 L509.73 141.62 L510.77 143.26 L511.81 144.93 L512.86 146.63 L513.9 148.36 L514.94 150.11 L515.98 151.88 L517.02 153.68 L518.06 155.49 L519.1 157.32 L520.14 159.17 L521.19 161.03 L522.23 162.9 L523.27 164.79 L524.31 166.69 L525.35 168.6 L526.39 170.51 L527.43 172.44 L528.47 174.37 L529.52 176.31 L530.56 178.26 L531.6 180.21 L532.64 182.16 L533.68 184.13 L534.72 186.09 L535.76 188.06 L536.81 190.03 L537.85 192.01 L538.89 193.98 L539.93 195.97 L540.97 197.95 L542.01 199.93 L543.05 201.92 L544.09 203.91 L545.14 205.9 L546.18 207.89 L547.22 209.88 L548.26 211.87 L549.3 213.87 L550.34 215.86 L551.38 217.86 L552.43 219.85 L553.47 221.85 L554.51 223.85 L555.55 225.85 L556.59 227.84 L557.63 229.84 L558.67 231.84 L559.71 233.84 L560.76 235.84 L561.8 237.84 L562.84 239.84 L563.88 241.84 L564.92 243.84 L565.96 245.84 L567 247.84 L568.04 249.85 L569.09 251.85 L570.13 253.85 L571.17 255.85 L572.21 257.85 L573.25 259.85 L574.29 261.86 L575.33 263.86 L576.38 265.86 L577.42 267.86 L578.46 269.86 L579.5 271.87 L580.54 273.87 L581.58 275.87 L582.62 277.87 L583.66 279.87 L584.71 281.88 L585.75 283.88 L586.79 285.88 L587.83 287.88 L588.87 289.89 L589.91 291.89 L590.95 293.89 L591.99 295.89 L593.04 297.9 L594.08 299.9 L595.12 301.9 L596.16 303.9 L597.2 305.9 L598.24 307.91 L599.28 309.91 L600.33 311.91 L601.37 313.91 L602.41 315.92 L603.45 317.92 L604.49 319.92 L605.53 321.92 L606.57 323.93 L607.61 325.93 L608.66 327.93 L609.7 329.93 L610.74 331.94 L611.78 333.94 L612.82 335.94 L613.86 337.94 L614.9 339.95 L615.95 341.95 L616.99 343.95 L618.03 345.95 L619.07 347.96 L620.11 349.96 L621.15 351.96 L622.19 353.96 L623.23 355.97 L624.28 357.97 L625.32 359.97 L626.36 361.97 L627.4 363.98 L628.44 365.98 L629.48 367.98 L630.52 369.98 L631.56 371.99 L632.61 373.99 L633.65 375.99 L634.69 377.99 L635.73 380 L636.77 382 L637.81 384 L638.85 386 L639.9 388.01 L640.94 390.01 L641.98 392.01 L643.02 394.01 L644.06 396.02 L645.1 398.02 L646.14 400.02 L647.18 402.02 L648.23 404.03 L649.27 406.03 L650.31 408.03 L651.35 410.03 L652.39 412.04 L653.43 414.04 L654.47 416.04 L655.52 418.04 L656.56 420.05 L657.6 422.05 L658.64 424.05 L659.68 426.05 L660.72 428.05 L661.76 430.06 L662.8 432.06 L663.85 434.06 L664.89 436.06 L665.93 438.07 L666.97 440.07 L668.01 442.07 L669.05 444.07 L670.09 446.08 L671.13 448.08 L672.18 450.08 L673.22 452.08 L674.26 454.09 L675.3 456.09" fill="none" stroke="#000000" stroke-width="1.9" stroke-linejoin="round"/>
<path d="M405.6 123.25 L406.64 123.24 L407.68 123.23 L408.72 123.21 L409.77 123.2 L410.81 123.18 L411.85 123.17 L412.89 123.15 L413.93 123.13 L414.97 123.1 L416.01 123.07 L417.05 123.05 L418.1 123.01 L419.14 122.98 L420.18 122.94 L421.22 122.89 L422.26 122.84 L423.3 122.78 L424.34 122.72 L425.38 122.66 L426.43 122.58 L427.47 122.5 L428.51 122.4 L429.55 122.3 L430.59 122.19 L431.63 122.06 L432.67 121.93 L433.72 121.77 L434.76 121.61 L435.8 121.42 L436.84 121.22 L437.88 120.99 L438.92 120.75 L439.96 120.48 L441 120.19 L442.05 119.87 L443.09 119.52 L444.13 119.13 L445.17 118.72 L446.21 118.27 L447.25 117.78 L448.29 117.26 L449.34 116.69 L450.38 116.08 L451.42 115.43 L452.46 114.74 L453.5 114 L454.54 113.21 L455.58 112.37 L456.62 111.5 L457.67 110.57 L458.71 109.6 L459.75 108.59 L460.79 107.53 L461.83 106.44 L462.87 105.3 L463.91 104.13 L464.95 102.93 L466 101.71 L467.04 100.45 L468.08 99.18 L469.12 97.89 L470.16 96.58 L471.2 95.27 L472.24 93.96 L473.29 92.65 L474.33 91.34 L475.37 90.05 L476.41 88.78 L477.45 87.53 L478.49 86.31 L479.53 85.12 L480.57 83.98 L481.62 82.88 L482.66 81.83 L483.7 80.84 L484.74 79.92 L485.78 79.06 L486.82 78.28 L487.86 77.57 L488.91 76.95 L489.95 76.42 L490.99 75.98 L492.03 75.63 L493.07 75.38 L494.11 75.23 L495.15 75.19 L496.19 75.24 L497.24 75.4 L498.28 75.66 L499.32 76.02 L500.36 76.49 L501.4 77.05 L502.44 77.7 L503.48 78.45 L504.52 79.29 L505.57 80.21 L506.61 81.21 L507.65 82.29 L508.69 83.44 L509.73 84.67 L510.77 85.95 L511.81 87.3 L512.86 88.7 L513.9 90.16 L514.94 91.66 L515.98 93.21 L517.02 94.79 L518.06 96.42 L519.1 98.08 L520.14 99.77 L521.19 101.49 L522.23 103.24 L523.27 105.01 L524.31 106.8 L525.35 108.61 L526.39 110.44 L527.43 112.28 L528.47 114.14 L529.52 116.02 L530.56 117.9 L531.6 119.79 L532.64 121.7 L533.68 123.61 L534.72 125.53 L535.76 127.45 L536.81 129.38 L537.85 131.31 L538.89 133.25 L539.93 135.19 L540.97 137.14 L542.01 139.08 L543.05 141.03 L544.09 142.98 L545.14 144.92 L546.18 146.87 L547.22 148.82 L548.26 150.76 L549.3 152.7 L550.34 154.64 L551.38 156.57 L552.43 158.5 L553.47 160.42 L554.51 162.34 L555.55 164.25 L556.59 166.15 L557.63 168.04 L558.67 169.93 L559.71 171.8 L560.76 173.66 L561.8 175.5 L562.84 177.33 L563.88 179.14 L564.92 180.94 L565.96 182.71 L567 184.46 L568.04 186.19 L569.09 187.89 L570.13 189.57 L571.17 191.21 L572.21 192.82 L573.25 194.4 L574.29 195.94 L575.33 197.45 L576.38 198.91 L577.42 200.33 L578.46 201.7 L579.5 203.03 L580.54 204.31 L581.58 205.54 L582.62 206.71 L583.66 207.84 L584.71 208.91 L585.75 209.93 L586.79 210.9 L587.83 211.81 L588.87 212.67 L589.91 213.48 L590.95 214.24 L591.99 214.95 L593.04 215.61 L594.08 216.22 L595.12 216.79 L596.16 217.32 L597.2 217.8 L598.24 218.25 L599.28 218.67 L600.33 219.04 L601.37 219.39 L602.41 219.71 L603.45 220 L604.49 220.26 L605.53 220.5 L606.57 220.72 L607.61 220.92 L608.66 221.1 L609.7 221.27 L610.74 221.42 L611.78 221.55 L612.82 221.67 L613.86 221.78 L614.9 221.88 L615.95 221.97 L616.99 222.05 L618.03 222.13 L619.07 222.19 L620.11 222.25 L621.15 222.31 L622.19 222.36 L623.23 222.4 L624.28 222.44 L625.32 222.47 L626.36 222.51 L627.4 222.54 L628.44 222.56 L629.48 222.58 L630.52 222.61 L631.56 222.62 L632.61 222.64 L633.65 222.66 L634.69 222.67 L635.73 222.68 L636.77 222.69 L637.81 222.7 L638.85 222.71 L639.9 222.72 L640.94 222.73 L641.98 222.73 L643.02 222.74 L644.06 222.75 L645.1 222.75 L646.14 222.75 L647.18 222.76 L648.23 222.76 L649.27 222.76 L650.31 222.77 L651.35 222.77 L652.39 222.77 L653.43 222.77 L654.47 222.78 L655.52 222.78 L656.56 222.78 L657.6 222.78 L658.64 222.78 L659.68 222.78 L660.72 222.78 L661.76 222.78 L662.8 222.79 L663.85 222.79 L664.89 222.79 L665.93 222.79 L666.97 222.79 L668.01 222.79 L669.05 222.79 L670.09 222.79 L671.13 222.79 L672.18 222.79 L673.22 222.79 L674.26 222.79 L675.3 222.79" fill="none" stroke="#c87f3c" stroke-width="2" stroke-linejoin="round"/>
<path d="M405.6 49.54 L406.64 49.54 L407.68 49.54 L408.72 49.54 L409.77 49.54 L410.81 49.54 L411.85 49.54 L412.89 49.54 L413.93 49.55 L414.97 49.55 L416.01 49.55 L417.05 49.55 L418.1 49.55 L419.14 49.55 L420.18 49.55 L421.22 49.56 L422.26 49.56 L423.3 49.56 L424.34 49.56 L425.38 49.57 L426.43 49.57 L427.47 49.57 L428.51 49.58 L429.55 49.58 L430.59 49.59 L431.63 49.59 L432.67 49.6 L433.72 49.6 L434.76 49.61 L435.8 49.62 L436.84 49.63 L437.88 49.64 L438.92 49.65 L439.96 49.66 L441 49.68 L442.05 49.69 L443.09 49.71 L444.13 49.73 L445.17 49.75 L446.21 49.77 L447.25 49.8 L448.29 49.83 L449.34 49.86 L450.38 49.9 L451.42 49.94 L452.46 49.99 L453.5 50.04 L454.54 50.09 L455.58 50.15 L456.62 50.22 L457.67 50.3 L458.71 50.38 L459.75 50.48 L460.79 50.58 L461.83 50.7 L462.87 50.83 L463.91 50.97 L464.95 51.13 L466 51.3 L467.04 51.5 L468.08 51.71 L469.12 51.95 L470.16 52.21 L471.2 52.5 L472.24 52.82 L473.29 53.17 L474.33 53.56 L475.37 53.98 L476.41 54.45 L477.45 54.96 L478.49 55.53 L479.53 56.15 L480.57 56.82 L481.62 57.56 L482.66 58.36 L483.7 59.23 L484.74 60.18 L485.78 61.2 L486.82 62.31 L487.86 63.51 L488.91 64.79 L489.95 66.17 L490.99 67.64 L492.03 69.21 L493.07 70.89 L494.11 72.66 L495.15 74.54 L496.19 76.52 L497.24 78.6 L498.28 80.79 L499.32 83.07 L500.36 85.45 L501.4 87.92 L502.44 90.48 L503.48 93.13 L504.52 95.86 L505.57 98.67 L506.61 101.55 L507.65 104.5 L508.69 107.5 L509.73 110.56 L510.77 113.67 L511.81 116.82 L512.86 120.01 L513.9 123.23 L514.94 126.47 L515.98 129.73 L517.02 133 L518.06 136.28 L519.1 139.56 L520.14 142.84 L521.19 146.1 L522.23 149.34 L523.27 152.55 L524.31 155.74 L525.35 158.89 L526.39 161.99 L527.43 165.05 L528.47 168.05 L529.52 170.99 L530.56 173.87 L531.6 176.67 L532.64 179.39 L533.68 182.03 L534.72 184.59 L535.76 187.06 L536.81 189.43 L537.85 191.71 L538.89 193.88 L539.93 195.96 L540.97 197.93 L542.01 199.8 L543.05 201.57 L544.09 203.23 L545.14 204.8 L546.18 206.26 L547.22 207.64 L548.26 208.91 L549.3 210.1 L550.34 211.2 L551.38 212.22 L552.43 213.16 L553.47 214.03 L554.51 214.83 L555.55 215.56 L556.59 216.23 L557.63 216.84 L558.67 217.4 L559.71 217.91 L560.76 218.38 L561.8 218.8 L562.84 219.19 L563.88 219.53 L564.92 219.85 L565.96 220.14 L567 220.4 L568.04 220.63 L569.09 220.85 L570.13 221.04 L571.17 221.21 L572.21 221.37 L573.25 221.51 L574.29 221.64 L575.33 221.75 L576.38 221.86 L577.42 221.95 L578.46 222.03 L579.5 222.11 L580.54 222.18 L581.58 222.24 L582.62 222.29 L583.66 222.34 L584.71 222.39 L585.75 222.43 L586.79 222.47 L587.83 222.5 L588.87 222.53 L589.91 222.55 L590.95 222.58 L591.99 222.6 L593.04 222.62 L594.08 222.64 L595.12 222.65 L596.16 222.67 L597.2 222.68 L598.24 222.69 L599.28 222.7 L600.33 222.71 L601.37 222.72 L602.41 222.72 L603.45 222.73 L604.49 222.74 L605.53 222.74 L606.57 222.75 L607.61 222.75 L608.66 222.76 L609.7 222.76 L610.74 222.76 L611.78 222.77 L612.82 222.77 L613.86 222.77 L614.9 222.77 L615.95 222.77 L616.99 222.78 L618.03 222.78 L619.07 222.78 L620.11 222.78 L621.15 222.78 L622.19 222.78 L623.23 222.78 L624.28 222.78 L625.32 222.78 L626.36 222.78 L627.4 222.79 L628.44 222.79 L629.48 222.79 L630.52 222.79 L631.56 222.79 L632.61 222.79 L633.65 222.79 L634.69 222.79 L635.73 222.79 L636.77 222.79 L637.81 222.79 L638.85 222.79 L639.9 222.79 L640.94 222.79 L641.98 222.79 L643.02 222.79 L644.06 222.79 L645.1 222.79 L646.14 222.79 L647.18 222.79 L648.23 222.79 L649.27 222.79 L650.31 222.79 L651.35 222.79 L652.39 222.79 L653.43 222.79 L654.47 222.79 L655.52 222.79 L656.56 222.79 L657.6 222.79 L658.64 222.79 L659.68 222.79 L660.72 222.79 L661.76 222.79 L662.8 222.79 L663.85 222.79 L664.89 222.79 L665.93 222.79 L666.97 222.79 L668.01 222.79 L669.05 222.79 L670.09 222.79 L671.13 222.79 L672.18 222.79 L673.22 222.79 L674.26 222.79 L675.3 222.79" fill="none" stroke="#ff0000" stroke-width="2" stroke-linejoin="round"/>
<path d="M405.6 49.54 L406.64 49.54 L407.68 49.54 L408.72 49.54 L409.77 49.54 L410.81 49.54 L411.85 49.54 L412.89 49.54 L413.93 49.54 L414.97 49.54 L416.01 49.54 L417.05 49.54 L418.1 49.54 L419.14 49.54 L420.18 49.55 L421.22 49.55 L422.26 49.55 L423.3 49.55 L424.34 49.55 L425.38 49.55 L426.43 49.55 L427.47 49.55 L428.51 49.56 L429.55 49.56 L430.59 49.56 L431.63 49.56 L432.67 49.57 L433.72 49.57 L434.76 49.57 L435.8 49.58 L436.84 49.58 L437.88 49.59 L438.92 49.59 L439.96 49.6 L441 49.61 L442.05 49.62 L443.09 49.62 L444.13 49.63 L445.17 49.64 L446.21 49.66 L447.25 49.67 L448.29 49.69 L449.34 49.7 L450.38 49.72 L451.42 49.74 L452.46 49.76 L453.5 49.79 L454.54 49.82 L455.58 49.85 L456.62 49.88 L457.67 49.92 L458.71 49.96 L459.75 50.01 L460.79 50.07 L461.83 50.12 L462.87 50.19 L463.91 50.26 L464.95 50.34 L466 50.43 L467.04 50.53 L468.08 50.63 L469.12 50.75 L470.16 50.89 L471.2 51.03 L472.24 51.19 L473.29 51.37 L474.33 51.57 L475.37 51.78 L476.41 52.02 L477.45 52.28 L478.49 52.57 L479.53 52.88 L480.57 53.22 L481.62 53.59 L482.66 54 L483.7 54.44 L484.74 54.92 L485.78 55.44 L486.82 56 L487.86 56.61 L488.91 57.26 L489.95 57.96 L490.99 58.7 L492.03 59.5 L493.07 60.35 L494.11 61.26 L495.15 62.21 L496.19 63.22 L497.24 64.29 L498.28 65.4 L499.32 66.57 L500.36 67.79 L501.4 69.06 L502.44 70.38 L503.48 71.75 L504.52 73.16 L505.57 74.61 L506.61 76.11 L507.65 77.64 L508.69 79.22 L509.73 80.82 L510.77 82.46 L511.81 84.13 L512.86 85.83 L513.9 87.56 L514.94 89.3 L515.98 91.08 L517.02 92.87 L518.06 94.68 L519.1 96.51 L520.14 98.35 L521.19 100.21 L522.23 102.08 L523.27 103.97 L524.31 105.86 L525.35 107.76 L526.39 109.68 L527.43 111.6 L528.47 113.52 L529.52 115.46 L530.56 117.4 L531.6 119.34 L532.64 121.29 L533.68 123.24 L534.72 125.2 L535.76 127.15 L536.81 129.11 L537.85 131.07 L538.89 133.04 L539.93 135 L540.97 136.96 L542.01 138.93 L543.05 140.89 L544.09 142.85 L545.14 144.81 L546.18 146.77 L547.22 148.72 L548.26 150.67 L549.3 152.62 L550.34 154.57 L551.38 156.51 L552.43 158.44 L553.47 160.37 L554.51 162.29 L555.55 164.21 L556.59 166.11 L557.63 168.01 L558.67 169.9 L559.71 171.77 L560.76 173.63 L561.8 175.48 L562.84 177.31 L563.88 179.12 L564.92 180.92 L565.96 182.69 L567 184.45 L568.04 186.18 L569.09 187.88 L570.13 189.56 L571.17 191.2 L572.21 192.81 L573.25 194.39 L574.29 195.94 L575.33 197.44 L576.38 198.9 L577.42 200.32 L578.46 201.69 L579.5 203.02 L580.54 204.3 L581.58 205.53 L582.62 206.71 L583.66 207.84 L584.71 208.91 L585.75 209.93 L586.79 210.89 L587.83 211.81 L588.87 212.67 L589.91 213.48 L590.95 214.24 L591.99 214.94 L593.04 215.6 L594.08 216.22 L595.12 216.79 L596.16 217.32 L597.2 217.8 L598.24 218.25 L599.28 218.66 L600.33 219.04 L601.37 219.39 L602.41 219.71 L603.45 220 L604.49 220.26 L605.53 220.5 L606.57 220.72 L607.61 220.92 L608.66 221.1 L609.7 221.27 L610.74 221.41 L611.78 221.55 L612.82 221.67 L613.86 221.78 L614.9 221.88 L615.95 221.97 L616.99 222.05 L618.03 222.13 L619.07 222.19 L620.11 222.25 L621.15 222.31 L622.19 222.35 L623.23 222.4 L624.28 222.44 L625.32 222.47 L626.36 222.5 L627.4 222.53 L628.44 222.56 L629.48 222.58 L630.52 222.6 L631.56 222.62 L632.61 222.64 L633.65 222.65 L634.69 222.67 L635.73 222.68 L636.77 222.69 L637.81 222.7 L638.85 222.71 L639.9 222.72 L640.94 222.73 L641.98 222.73 L643.02 222.74 L644.06 222.74 L645.1 222.75 L646.14 222.75 L647.18 222.76 L648.23 222.76 L649.27 222.76 L650.31 222.77 L651.35 222.77 L652.39 222.77 L653.43 222.77 L654.47 222.77 L655.52 222.78 L656.56 222.78 L657.6 222.78 L658.64 222.78 L659.68 222.78 L660.72 222.78 L661.76 222.78 L662.8 222.78 L663.85 222.78 L664.89 222.78 L665.93 222.79 L666.97 222.79 L668.01 222.79 L669.05 222.79 L670.09 222.79 L671.13 222.79 L672.18 222.79 L673.22 222.79 L674.26 222.79 L675.3 222.79" fill="none" stroke="#0000ff" stroke-width="2" stroke-dasharray="4.3 3.996" stroke-linejoin="round"/>
</g>
<path d="M419.13 29.1 v3.7 M427.05 29.1 v3.7 M432.66 29.1 v3.7 M437.02 29.1 v3.7 M440.58 29.1 v3.7 M443.59 29.1 v3.7 M446.19 29.1 v3.7 M448.49 29.1 v3.7 M450.55 29.1 v5.6 M464.08 29.1 v3.7 M472 29.1 v3.7 M477.61 29.1 v3.7 M481.97 29.1 v3.7 M485.53 29.1 v3.7 M488.54 29.1 v3.7 M491.14 29.1 v3.7 M493.44 29.1 v3.7 M495.5 29.1 v5.6 M509.03 29.1 v3.7 M516.95 29.1 v3.7 M522.56 29.1 v3.7 M526.92 29.1 v3.7 M530.48 29.1 v3.7 M533.49 29.1 v3.7 M536.09 29.1 v3.7 M538.39 29.1 v3.7 M540.45 29.1 v5.6 M553.98 29.1 v3.7 M561.9 29.1 v3.7 M567.51 29.1 v3.7 M571.87 29.1 v3.7 M575.43 29.1 v3.7 M578.44 29.1 v3.7 M581.04 29.1 v3.7 M583.34 29.1 v3.7 M585.4 29.1 v5.6 M598.93 29.1 v3.7 M606.85 29.1 v3.7 M612.46 29.1 v3.7 M616.82 29.1 v3.7 M620.38 29.1 v3.7 M623.39 29.1 v3.7 M625.99 29.1 v3.7 M628.29 29.1 v3.7 M630.35 29.1 v5.6 M643.88 29.1 v3.7 M651.8 29.1 v3.7 M657.41 29.1 v3.7 M661.77 29.1 v3.7 M665.33 29.1 v3.7 M668.34 29.1 v3.7 M670.94 29.1 v3.7 M673.24 29.1 v3.7 M675.3 219.37 h-3.7 M675.3 216.47 h-3.7 M675.3 213.97 h-3.7 M675.3 211.76 h-3.7 M675.3 209.78 h-5.6 M675.3 196.77 h-3.7 M675.3 189.16 h-3.7 M675.3 183.76 h-3.7 M675.3 179.57 h-3.7 M675.3 176.15 h-3.7 M675.3 173.25 h-3.7 M675.3 170.75 h-3.7 M675.3 168.54 h-3.7 M675.3 166.56 h-5.6 M675.3 153.55 h-3.7 M675.3 145.94 h-3.7 M675.3 140.54 h-3.7 M675.3 136.35 h-3.7 M675.3 132.93 h-3.7 M675.3 130.03 h-3.7 M675.3 127.53 h-3.7 M675.3 125.32 h-3.7 M675.3 123.34 h-5.6 M675.3 110.33 h-3.7 M675.3 102.72 h-3.7 M675.3 97.32 h-3.7 M675.3 93.13 h-3.7 M675.3 89.71 h-3.7 M675.3 86.81 h-3.7 M675.3 84.31 h-3.7 M675.3 82.1 h-3.7 M675.3 80.12 h-5.6 M675.3 67.11 h-3.7 M675.3 59.5 h-3.7 M675.3 54.1 h-3.7 M675.3 49.91 h-3.7 M405.6 46.49 h3.7 M675.3 46.49 h-3.7 M405.6 43.59 h3.7 M675.3 43.59 h-3.7 M405.6 41.09 h3.7 M675.3 41.09 h-3.7 M405.6 38.88 h3.7 M675.3 38.88 h-3.7 M405.6 36.9 h5.6 M675.3 36.9 h-5.6" stroke="#6a6a6a" stroke-width="0.65" fill="none"/>
<path d="M419.13 253 v-3.7 M427.05 253 v-3.7 M432.66 253 v-3.7 M437.02 253 v-3.7 M440.58 253 v-3.7 M443.59 253 v-3.7 M446.19 253 v-3.7 M448.49 253 v-3.7 M450.55 253 v-5.6 M464.08 253 v-3.7 M472 253 v-3.7 M477.61 253 v-3.7 M481.97 253 v-3.7 M485.53 253 v-3.7 M488.54 253 v-3.7 M491.14 253 v-3.7 M493.44 253 v-3.7 M495.5 253 v-5.6 M509.03 253 v-3.7 M516.95 253 v-3.7 M522.56 253 v-3.7 M526.92 253 v-3.7 M530.48 253 v-3.7 M533.49 253 v-3.7 M536.09 253 v-3.7 M538.39 253 v-3.7 M540.45 253 v-5.6 M553.98 253 v-3.7 M561.9 253 v-3.7 M567.51 253 v-3.7 M571.87 253 v-3.7 M575.43 253 v-3.7 M578.44 253 v-3.7 M581.04 253 v-3.7 M583.34 253 v-3.7 M585.4 253 v-5.6 M598.93 253 v-3.7 M606.85 253 v-3.7 M612.46 253 v-3.7 M616.82 253 v-3.7 M620.38 253 v-3.7 M623.39 253 v-3.7 M625.99 253 v-3.7 M628.29 253 v-3.7 M630.35 253 v-5.6 M643.88 253 v-3.7 M651.8 253 v-3.7 M657.41 253 v-3.7 M661.77 253 v-3.7 M665.33 253 v-3.7 M668.34 253 v-3.7 M670.94 253 v-3.7 M673.24 253 v-3.7 M405.6 239.99 h3.7 M675.3 239.99 h-3.7 M405.6 232.38 h3.7 M675.3 232.38 h-3.7 M405.6 226.98 h3.7 M675.3 226.98 h-3.7 M405.6 222.79 h3.7 M675.3 222.79 h-3.7 M405.6 219.37 h3.7 M405.6 216.47 h3.7 M405.6 213.97 h3.7 M405.6 211.76 h3.7 M405.6 209.78 h5.6 M405.6 196.77 h3.7 M405.6 189.16 h3.7 M405.6 183.76 h3.7 M405.6 179.57 h3.7 M405.6 176.15 h3.7 M405.6 173.25 h3.7 M405.6 170.75 h3.7 M405.6 168.54 h3.7 M405.6 166.56 h5.6 M405.6 153.55 h3.7 M405.6 145.94 h3.7 M405.6 140.54 h3.7 M405.6 136.35 h3.7 M405.6 132.93 h3.7 M405.6 130.03 h3.7 M405.6 127.53 h3.7 M405.6 125.32 h3.7 M405.6 123.34 h5.6 M405.6 110.33 h3.7 M405.6 102.72 h3.7 M405.6 97.32 h3.7 M405.6 93.13 h3.7 M405.6 89.71 h3.7 M405.6 86.81 h3.7 M405.6 84.31 h3.7 M405.6 82.1 h3.7 M405.6 80.12 h5.6 M405.6 67.11 h3.7 M405.6 59.5 h3.7 M405.6 54.1 h3.7 M405.6 49.91 h3.7" stroke="#6a6a6a" stroke-width="0.65" stroke-opacity="0.4" fill="none"/>
<rect x="405.6" y="29.1" width="269.7" height="223.9" fill="none" stroke="#626262" stroke-width="1.1"/>
<path d="M405.9 49.54 L405.9 123.34" stroke="#c8f5c8" stroke-width="0.6" stroke-opacity="0.55" fill="none"/>
<path d="M405.9 123.34 L405.9 222.79" stroke="#fff580" stroke-width="0.6" stroke-opacity="0.55" fill="none"/>
<path d="M405.9 222.79 L405.9 253" stroke="#cccccc" stroke-width="0.6" stroke-opacity="0.55" fill="none"/>
<path d="M405.6 252.7 L675.3 252.7" stroke="#cccccc" stroke-width="0.6" stroke-opacity="0.55" fill="none"/>
<path d="M675 222.79 L675 253" stroke="#cccccc" stroke-width="0.6" stroke-opacity="0.55" fill="none"/>
<g font-family="'Liberation Serif', serif" fill="#0d0d0d">
<g transform="translate(418.75 270.1)"><text transform="translate(0.4 -5.3) scale(1.14 1)" text-anchor="end" font-size="10.8">2</text><text x="-13.9" y="-5.3" font-size="10.8" textLength="7.0" lengthAdjust="spacingAndGlyphs">−</text><text transform="translate(-13.1 0) scale(0.91 1)" text-anchor="end" font-size="15.4">10</text></g>
<g transform="translate(463.7 270.1)"><text transform="translate(0.4 -5.3) scale(1.14 1)" text-anchor="end" font-size="10.8">1</text><text x="-13.9" y="-5.3" font-size="10.8" textLength="7.0" lengthAdjust="spacingAndGlyphs">−</text><text transform="translate(-13.1 0) scale(0.91 1)" text-anchor="end" font-size="15.4">10</text></g>
<g transform="translate(504.7 270.1)"><text transform="translate(0.4 -5.3) scale(1.14 1)" text-anchor="end" font-size="10.8">0</text><text transform="translate(-5.2 0) scale(0.91 1)" text-anchor="end" font-size="15.4">10</text></g>
<g transform="translate(549.65 270.1)"><text transform="translate(0.4 -5.3) scale(1.14 1)" text-anchor="end" font-size="10.8">1</text><text transform="translate(-5.2 0) scale(0.91 1)" text-anchor="end" font-size="15.4">10</text></g>
<g transform="translate(594.6 270.1)"><text transform="translate(0.4 -5.3) scale(1.14 1)" text-anchor="end" font-size="10.8">2</text><text transform="translate(-5.2 0) scale(0.91 1)" text-anchor="end" font-size="15.4">10</text></g>
<g transform="translate(639.55 270.1)"><text transform="translate(0.4 -5.3) scale(1.14 1)" text-anchor="end" font-size="10.8">3</text><text transform="translate(-5.2 0) scale(0.91 1)" text-anchor="end" font-size="15.4">10</text></g>
<g transform="translate(684.5 270.1)"><text transform="translate(0.4 -5.3) scale(1.14 1)" text-anchor="end" font-size="10.8">4</text><text transform="translate(-5.2 0) scale(0.91 1)" text-anchor="end" font-size="15.4">10</text></g>
<g transform="translate(399.4 259.4)"><text transform="translate(0.4 -5.3) scale(1.14 1)" text-anchor="end" font-size="10.8">3</text><text x="-13.9" y="-5.3" font-size="10.8" textLength="7.0" lengthAdjust="spacingAndGlyphs">−</text><text transform="translate(-13.1 0) scale(0.91 1)" text-anchor="end" font-size="15.4">10</text></g>
<g transform="translate(399.4 216.18)"><text transform="translate(0.4 -5.3) scale(1.14 1)" text-anchor="end" font-size="10.8">2</text><text x="-13.9" y="-5.3" font-size="10.8" textLength="7.0" lengthAdjust="spacingAndGlyphs">−</text><text transform="translate(-13.1 0) scale(0.91 1)" text-anchor="end" font-size="15.4">10</text></g>
<g transform="translate(399.4 172.96)"><text transform="translate(0.4 -5.3) scale(1.14 1)" text-anchor="end" font-size="10.8">1</text><text x="-13.9" y="-5.3" font-size="10.8" textLength="7.0" lengthAdjust="spacingAndGlyphs">−</text><text transform="translate(-13.1 0) scale(0.91 1)" text-anchor="end" font-size="15.4">10</text></g>
<g transform="translate(399.4 129.74)"><text transform="translate(0.4 -5.3) scale(1.14 1)" text-anchor="end" font-size="10.8">0</text><text transform="translate(-5.2 0) scale(0.91 1)" text-anchor="end" font-size="15.4">10</text></g>
<g transform="translate(399.4 86.52)"><text transform="translate(0.4 -5.3) scale(1.14 1)" text-anchor="end" font-size="10.8">1</text><text transform="translate(-5.2 0) scale(0.91 1)" text-anchor="end" font-size="15.4">10</text></g>
<g transform="translate(399.4 43.3)"><text transform="translate(0.4 -5.3) scale(1.14 1)" text-anchor="end" font-size="10.8">2</text><text transform="translate(-5.2 0) scale(0.91 1)" text-anchor="end" font-size="15.4">10</text></g>
</g>
<text x="6.5" y="19.6" font-size="13.5" fill="#000" textLength="6.4" lengthAdjust="spacingAndGlyphs" font-weight="bold">a</text>
<text x="353.2" y="20.9" font-size="13.9" fill="#000" textLength="7.1" lengthAdjust="spacingAndGlyphs" font-weight="bold">b</text>
<text x="106.2" y="12.8" font-size="13.3" fill="#0d0d0d" textLength="171.2" lengthAdjust="spacingAndGlyphs" word-spacing="2.4">optimized for single frequency</text>
<text x="486.6" y="15.7" font-size="13.3" fill="#0d0d0d" textLength="107.4" lengthAdjust="spacingAndGlyphs" word-spacing="2.4">variational readout</text>
<text x="68.8" y="81.3" font-size="13.3" fill="#0d0d0d" textLength="26.2" lengthAdjust="spacingAndGlyphs">back</text>
<text x="68.8" y="99.4" font-size="13.3" fill="#0d0d0d" textLength="34.2" lengthAdjust="spacingAndGlyphs">action</text>
<text x="64.8" y="192.2" font-size="13.3" fill="#0d0d0d" textLength="57.8" lengthAdjust="spacingAndGlyphs">zero-point</text>
<text x="64.8" y="210.5" font-size="13.3" fill="#0d0d0d" textLength="39.4" lengthAdjust="spacingAndGlyphs">motion</text>
<text x="64.8" y="240.8" font-size="13.3" fill="#0d0d0d" textLength="57.2" lengthAdjust="spacingAndGlyphs">shot-noise</text>
<text x="191" y="243.5" font-size="13.3" fill="#000" textLength="17.2" lengthAdjust="spacingAndGlyphs">QL</text>
<text x="274.4" y="243.5" font-size="13.3" fill="#0000ff" textLength="24" lengthAdjust="spacingAndGlyphs">SQL</text>
<text x="416.95" y="81.3" font-size="13.3" fill="#0d0d0d" textLength="26.2" lengthAdjust="spacingAndGlyphs">back</text>
<text x="416.95" y="99.4" font-size="13.3" fill="#0d0d0d" textLength="34.2" lengthAdjust="spacingAndGlyphs">action</text>
<text x="412.95" y="192.2" font-size="13.3" fill="#0d0d0d" textLength="57.8" lengthAdjust="spacingAndGlyphs">zero-point</text>
<text x="412.95" y="210.5" font-size="13.3" fill="#0d0d0d" textLength="39.4" lengthAdjust="spacingAndGlyphs">motion</text>
<text x="412.95" y="240.8" font-size="13.3" fill="#0d0d0d" textLength="57.2" lengthAdjust="spacingAndGlyphs">shot-noise</text>
<text x="539.15" y="243.5" font-size="13.3" fill="#000" textLength="17.2" lengthAdjust="spacingAndGlyphs">QL</text>
<text x="622.55" y="243.5" font-size="13.3" fill="#0000ff" textLength="24" lengthAdjust="spacingAndGlyphs">SQL</text>
<text x="203.8" y="62.9" font-size="13.3" fill="#c87f3c" textLength="52" lengthAdjust="spacingAndGlyphs">synodyne</text>
<text x="261.2" y="62.9" font-size="15" fill="#c87f3c" font-family="'Liberation Serif', serif" font-style="italic">β</text>
<text x="272.9" y="63.2" font-size="15" fill="#c87f3c" font-family="'Liberation Serif', serif" textLength="9.6" lengthAdjust="spacingAndGlyphs">=</text>
<text x="288.2" y="62.9" font-size="14.4" fill="#c87f3c" font-family="'Liberation Serif', serif" textLength="24" lengthAdjust="spacingAndGlyphs">1.02</text>
<text y="131.3" font-size="13.8" fill="#ff0000" font-family="'Liberation Serif', serif"><tspan x="247" font-style="italic">ϕ</tspan><tspan x="259.6" textLength="9.6" lengthAdjust="spacingAndGlyphs">=</tspan><tspan x="273">5.8</tspan><tspan x="290.6">°</tspan></text>
<text transform="translate(184.3 106.1) rotate(63.5)" font-size="13.8" fill="#0000ff" font-family="'Liberation Serif', serif"><tspan x="0" font-style="italic">ϕ</tspan><tspan x="12.8" textLength="9.6" lengthAdjust="spacingAndGlyphs">=</tspan><tspan x="26.4">90</tspan><tspan x="40.4">°</tspan></text>
<text transform="translate(491.9 47.7) rotate(46.5)" font-size="13.8" fill="#0000ff" font-family="'Liberation Serif', serif"><tspan x="0" font-style="italic">ϕ</tspan><tspan x="12.8" textLength="9.6" lengthAdjust="spacingAndGlyphs">=</tspan><tspan x="26.4">90</tspan><tspan x="40.4">°</tspan></text>
<text x="548.3" y="96.3" font-size="13.3" fill="#c87f3c" textLength="117.2" lengthAdjust="spacingAndGlyphs" word-spacing="2.4">variational synodyne</text>
<text x="548.3" y="109.9" font-size="13.3" fill="#ff0000" textLength="107.6" lengthAdjust="spacingAndGlyphs" word-spacing="2.4">variational readout</text>
<path d="M545.4 94.4 L472.4 101.1" stroke="#c87f3c" stroke-width="0.7" fill="none"/>
<path d="M545.4 108.4 L517.2 119.2" stroke="#ff0000" stroke-width="0.7" fill="none"/>
<text y="290.2" font-size="15.2" fill="#0d0d0d" font-family="'Liberation Serif', serif"><tspan x="152.7">2</tspan><tspan x="160">(</tspan><tspan x="164" font-style="italic">ω</tspan><tspan x="176.3" textLength="11.6" lengthAdjust="spacingAndGlyphs">−</tspan><tspan x="189.7" font-style="italic">ω</tspan><tspan x="199.5" font-style="italic" font-size="10" dy="1.6" textLength="10.2" lengthAdjust="spacingAndGlyphs">m</tspan><tspan x="210.6" dy="-1.6">)</tspan><tspan x="215.4" textLength="7.0" lengthAdjust="spacingAndGlyphs">/</tspan><tspan x="222.4">Γ</tspan></text>
<text transform="translate(13.6 160.4) rotate(-90)" font-size="15.2" fill="#0d0d0d" font-family="'Liberation Serif', serif"><tspan x="0" font-style="italic" textLength="8.6" lengthAdjust="spacingAndGlyphs">S</tspan><tspan x="10.5" font-style="italic" font-size="12.2" dy="2.6" textLength="10.2" lengthAdjust="spacingAndGlyphs">xx</tspan><tspan x="20.1" dy="-2.6">(</tspan><tspan x="23.3" font-style="italic" font-size="16">ω</tspan><tspan x="33.0">)</tspan></text>
<text y="290.2" font-size="15.2" fill="#0d0d0d" font-family="'Liberation Serif', serif"><tspan x="500.85">2</tspan><tspan x="508.15">(</tspan><tspan x="512.15" font-style="italic">ω</tspan><tspan x="524.45" textLength="11.6" lengthAdjust="spacingAndGlyphs">−</tspan><tspan x="537.85" font-style="italic">ω</tspan><tspan x="547.65" font-style="italic" font-size="10" dy="1.6" textLength="10.2" lengthAdjust="spacingAndGlyphs">m</tspan><tspan x="558.75" dy="-1.6">)</tspan><tspan x="563.55" textLength="7.0" lengthAdjust="spacingAndGlyphs">/</tspan><tspan x="570.55">Γ</tspan></text>
<text transform="translate(361.75 160.4) rotate(-90)" font-size="15.2" fill="#0d0d0d" font-family="'Liberation Serif', serif"><tspan x="0" font-style="italic" textLength="8.6" lengthAdjust="spacingAndGlyphs">S</tspan><tspan x="10.5" font-style="italic" font-size="12.2" dy="2.6" textLength="10.2" lengthAdjust="spacingAndGlyphs">xx</tspan><tspan x="20.1" dy="-2.6">(</tspan><tspan x="23.3" font-style="italic" font-size="16">ω</tspan><tspan x="33.0">)</tspan></text>
</svg></body></html>
